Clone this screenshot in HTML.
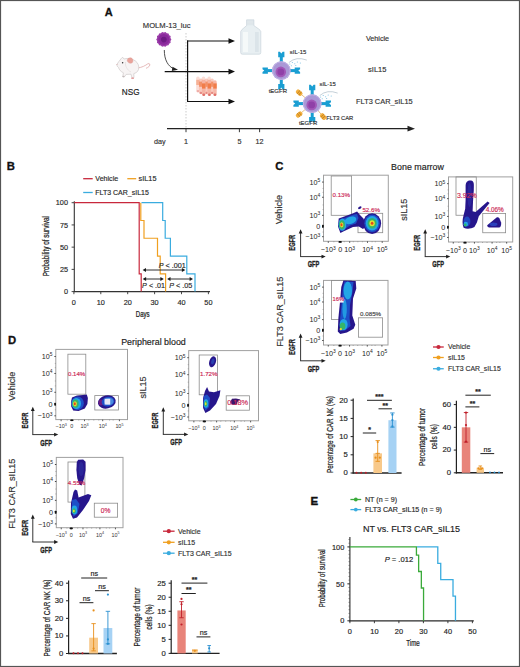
<!DOCTYPE html><html><head><meta charset="utf-8"><style>html,body{margin:0;padding:0;background:#fff;overflow:hidden;width:520px;height:667px;}svg{display:block;}text{font-family:"Liberation Sans",sans-serif;}</style></head><body>
<svg width="520" height="667" viewBox="0 0 520 667">
<defs>
<filter id="blur1" x="-30%" y="-30%" width="160%" height="160%"><feGaussianBlur stdDeviation="0.6"/></filter>
<filter id="blur2" x="-30%" y="-30%" width="160%" height="160%"><feGaussianBlur stdDeviation="1.2"/></filter>
<marker id="ah" viewBox="0 0 10 10" refX="9" refY="5" markerWidth="6" markerHeight="6" orient="auto-start-reverse"><path d="M0,1 L10,5 L0,9 z" fill="#111"/></marker>
<radialGradient id="cellg" cx="50%" cy="50%" r="50%"><stop offset="0" stop-color="#6a1a7a"/><stop offset="0.5" stop-color="#8a2a9a"/><stop offset="1" stop-color="#a040b0"/></radialGradient>
</defs>
<rect x="0" y="0" width="520" height="667" fill="#fff"/>
<text x="104.8" y="15.8" font-size="11" text-anchor="start" fill="#111" font-weight="bold" stroke="#111" stroke-width="0.3" style="">A</text>
<text x="166.7" y="28.34" font-size="7.6" text-anchor="middle" fill="#333" font-weight="normal" stroke="#333" stroke-width="0.16">MOLM-13_luc</text>
<path d="M171.40,39.40 L170.43,40.91 L170.65,42.70 L169.12,43.64 L168.54,45.34 L166.75,45.53 L165.49,46.81 L163.80,46.20 L162.11,46.81 L160.85,45.53 L159.06,45.34 L158.48,43.64 L156.95,42.70 L157.17,40.91 L156.20,39.40 L157.17,37.89 L156.95,36.10 L158.48,35.16 L159.06,33.46 L160.85,33.27 L162.11,31.99 L163.80,32.60 L165.49,31.99 L166.75,33.27 L168.54,33.46 L169.12,35.16 L170.65,36.10 L170.43,37.89 z" fill="#9a3aa8" filter="url(#blur1)"/>
<circle cx="163.8" cy="39.4" r="5.5" fill="#8a2a9c" filter="url(#blur1)"/>
<circle cx="163.8" cy="39.6" r="2.8" fill="#6e1a84" filter="url(#blur1)"/>
<path d="M164.3,50 C164.3,60 168,66.5 174.5,69.2" stroke="#222" stroke-width="0.8" fill="none" />
<path d="M172.5,66.8 L178,69.8 L171.8,70.9 z" stroke="none" stroke-width="1" fill="#222" />
<line x1="186" y1="33" x2="186" y2="129" stroke="#aaa" stroke-width="0.6" stroke-dasharray="1.5,1.5"/>
<line x1="187.6" y1="40.5" x2="187.6" y2="102.1" stroke="#111" stroke-width="1.2" />
<line x1="187" y1="41" x2="231" y2="41" stroke="#111" stroke-width="1.2" />
<path d="M228.5,38.2 L235,41 L228.5,43.8 z" stroke="none" stroke-width="1" fill="#111" />
<line x1="164.7" y1="71.6" x2="231" y2="71.6" stroke="#111" stroke-width="1.2" />
<path d="M228.5,68.8 L235,71.6 L228.5,74.4 z" stroke="none" stroke-width="1" fill="#111" />
<line x1="187" y1="101.5" x2="231" y2="101.5" stroke="#111" stroke-width="1.2" />
<path d="M228.5,98.7 L235,101.5 L228.5,104.3 z" stroke="none" stroke-width="1" fill="#111" />
<g filter="url(#blur1)">
<path d="M137.5,68 C142,67.5 145.5,65.5 147.8,63.8 C149.6,62.8 150.6,64.6 149.2,66.3 C148.3,67.4 146.8,68 146,68.3" stroke="#e0aaaa" stroke-width="0.8" fill="none" />
<path d="M116.8,64.6 C118,62.6 119.6,60.4 121.2,58.6 L122.6,57.2 L124,59 C126.5,58.2 130,58.4 133,59.6 C136.5,61 138.6,63.8 138.8,67.2 C139,70.5 137,72.8 133.8,73.6 L134,77.6 L132.2,78.8 L131,74.2 L126.2,74.4 L124.4,76.8 L122.8,76.4 L123.4,72.8 C120.8,71.6 119,69.6 118.6,67.6 C117.6,66.8 116.8,65.8 116.8,64.6 z" stroke="#bdb6b6" stroke-width="0.5" fill="#f7f4f4" />
<path d="M125.5,62 C125,66 127,70 131,72" stroke="#d8d2d2" stroke-width="0.5" fill="none" />
<path d="M127.2,60.6 C127.2,58.4 129,57.4 131,57.8 C133,58.4 133.4,61 132.4,62.6 C131.2,64 128,63.6 127.2,60.6 z" stroke="#d48c86" stroke-width="0.3" fill="#e9a39a" />
<ellipse cx="132.6" cy="78.2" rx="1.4" ry="0.9" fill="#e4a0a0"/>
<ellipse cx="123.4" cy="76.6" rx="1.2" ry="0.8" fill="#c4bcbc"/>
</g>
<circle cx="122.6" cy="62.8" r="0.75" fill="#333"/>
<circle cx="117" cy="64.6" r="0.5" fill="#d8a0a0"/>
<text x="130.7" y="94.65" font-size="8.2" text-anchor="middle" fill="#222" font-weight="normal" stroke="#222" stroke-width="0.16">NSG</text>
<g filter="url(#blur1)">
<rect x="196.20" y="76.60" width="3.5" height="15.8" rx="1.7" fill="#f6b4a4" opacity="0.45"/>
<rect x="196.20" y="79.80" width="3.5" height="5.2" fill="#f07a46" opacity="0.45"/>
<rect x="196.70" y="90.00" width="2.5" height="2.3" rx="1" fill="#d85a58" opacity="0.36"/>
<rect x="201.80" y="76.60" width="3.5" height="15.8" rx="1.7" fill="#f6b4a4" opacity="0.45"/>
<rect x="201.80" y="79.80" width="3.5" height="5.2" fill="#f07a46" opacity="0.45"/>
<rect x="202.30" y="90.00" width="2.5" height="2.3" rx="1" fill="#d85a58" opacity="0.36"/>
<rect x="207.40" y="76.60" width="3.5" height="15.8" rx="1.7" fill="#f6b4a4" opacity="0.45"/>
<rect x="207.40" y="79.80" width="3.5" height="5.2" fill="#f07a46" opacity="0.45"/>
<rect x="207.90" y="90.00" width="2.5" height="2.3" rx="1" fill="#d85a58" opacity="0.36"/>
<rect x="199.10" y="78.40" width="3.5" height="15.8" rx="1.7" fill="#f6b4a4" opacity="0.7"/>
<rect x="199.10" y="81.60" width="3.5" height="5.2" fill="#f07a46" opacity="0.7"/>
<rect x="199.60" y="91.80" width="2.5" height="2.3" rx="1" fill="#d85a58" opacity="0.56"/>
<rect x="204.70" y="78.40" width="3.5" height="15.8" rx="1.7" fill="#f6b4a4" opacity="0.7"/>
<rect x="204.70" y="81.60" width="3.5" height="5.2" fill="#f07a46" opacity="0.7"/>
<rect x="205.20" y="91.80" width="2.5" height="2.3" rx="1" fill="#d85a58" opacity="0.56"/>
<rect x="210.30" y="78.40" width="3.5" height="15.8" rx="1.7" fill="#f6b4a4" opacity="0.7"/>
<rect x="210.30" y="81.60" width="3.5" height="5.2" fill="#f07a46" opacity="0.7"/>
<rect x="210.80" y="91.80" width="2.5" height="2.3" rx="1" fill="#d85a58" opacity="0.56"/>
<rect x="202.00" y="80.20" width="3.5" height="15.8" rx="1.7" fill="#f6b4a4" opacity="0.95"/>
<rect x="202.00" y="83.40" width="3.5" height="5.2" fill="#f07a46" opacity="0.95"/>
<rect x="202.50" y="93.60" width="2.5" height="2.3" rx="1" fill="#d85a58" opacity="0.76"/>
<rect x="207.60" y="80.20" width="3.5" height="15.8" rx="1.7" fill="#f6b4a4" opacity="0.95"/>
<rect x="207.60" y="83.40" width="3.5" height="5.2" fill="#f07a46" opacity="0.95"/>
<rect x="208.10" y="93.60" width="2.5" height="2.3" rx="1" fill="#d85a58" opacity="0.76"/>
<rect x="213.20" y="80.20" width="3.5" height="15.8" rx="1.7" fill="#f6b4a4" opacity="0.95"/>
<rect x="213.20" y="83.40" width="3.5" height="5.2" fill="#f07a46" opacity="0.95"/>
<rect x="213.70" y="93.60" width="2.5" height="2.3" rx="1" fill="#d85a58" opacity="0.76"/>
</g>
<path d="M246.6,19.8 L253.9,19.8 L253.9,25.6 L259.6,29.6 L260.8,31.6 L260.8,52.6 Q260.8,54.2 259.2,54.2 L242.3,54.2 Q240.7,54.2 240.7,52.6 L240.7,31.6 L241.9,29.6 L246.6,25.6 z" stroke="#c2ced6" stroke-width="0.6" fill="#e8eff2" />
<line x1="246.6" y1="20.8" x2="253.9" y2="20.8" stroke="#cfd9df" stroke-width="0.4" />
<line x1="246.6" y1="22.1" x2="253.9" y2="22.1" stroke="#cfd9df" stroke-width="0.4" />
<line x1="246.6" y1="23.400000000000002" x2="253.9" y2="23.400000000000002" stroke="#cfd9df" stroke-width="0.4" />
<line x1="246.6" y1="24.700000000000003" x2="253.9" y2="24.700000000000003" stroke="#cfd9df" stroke-width="0.4" />
<path d="M243,32 L243,52 L248,52 L248,32 z" stroke="none" stroke-width="1" fill="#f6f9fa" opacity="0.9"/>
<path d="M255,32 L258.8,32 L258.8,52 L255,52 z" stroke="none" stroke-width="1" fill="#d6e0e6" opacity="0.7"/>
<g transform="translate(281.3,70.6) rotate(0)" fill="#1a9ed2"><rect x="-1.5" y="-14" width="3" height="5.4"/><path d="M-3.1,-13.4 L-3.1,-18.8 L-1.4,-18.8 L0,-17 L1.4,-18.8 L3.1,-18.8 L3.1,-13.4 z"/></g>
<g transform="translate(281.3,70.6) rotate(90)" fill="#1a9ed2"><rect x="-1.5" y="-14" width="3" height="5.4"/><path d="M-3.1,-13.4 L-3.1,-18.8 L-1.4,-18.8 L0,-17 L1.4,-18.8 L3.1,-18.8 L3.1,-13.4 z"/></g>
<g transform="translate(281.3,70.6) rotate(180)" fill="#1a9ed2"><rect x="-1.5" y="-14" width="3" height="5.4"/><path d="M-3.1,-13.4 L-3.1,-18.8 L-1.4,-18.8 L0,-17 L1.4,-18.8 L3.1,-18.8 L3.1,-13.4 z"/></g>
<g transform="translate(281.3,70.6) rotate(270)" fill="#1a9ed2"><rect x="-1.5" y="-14" width="3" height="5.4"/><path d="M-3.1,-13.4 L-3.1,-18.8 L-1.4,-18.8 L0,-17 L1.4,-18.8 L3.1,-18.8 L3.1,-13.4 z"/></g>
<circle cx="281.3" cy="70.6" r="9.4" fill="#aa98d6"/>
<circle cx="281.3" cy="70.6" r="8.8" fill="none" stroke="#c4b6e6" stroke-width="0.9"/>
<circle cx="280.8" cy="71.89999999999999" r="5.3" fill="#a258b8" filter="url(#blur1)"/>
<circle cx="280.8" cy="71.89999999999999" r="3.4" fill="#9040a8" filter="url(#blur1)"/>
<path d="M288.8,62.599999999999994 Q296.3,56.099999999999994 306.8,60.099999999999994" stroke="#8aa0b0" stroke-width="0.5" fill="none"/>
<circle cx="289.8" cy="64.1" r="0.5" fill="#6ab8e0"/>
<circle cx="292.3" cy="62.599999999999994" r="0.5" fill="#6ab8e0"/>
<circle cx="294.8" cy="63.8" r="0.5" fill="#6ab8e0"/>
<circle cx="297.3" cy="61.99999999999999" r="0.5" fill="#6ab8e0"/>
<circle cx="300.3" cy="63.099999999999994" r="0.5" fill="#6ab8e0"/>
<circle cx="291.3" cy="65.8" r="0.5" fill="#6ab8e0"/>
<circle cx="295.8" cy="65.6" r="0.5" fill="#6ab8e0"/>
<text x="298" y="53.92" font-size="5.9" text-anchor="middle" fill="#333" font-weight="normal" stroke="#333" stroke-width="0.16">sIL-15</text>
<text x="277.8" y="92.96" font-size="6.0" text-anchor="middle" fill="#333" font-weight="normal" stroke="#333" stroke-width="0.16">tEGFR</text>
<g transform="translate(312.2,103.6) rotate(-50)"><line x1="0" y1="-9" x2="0" y2="-14" stroke="#d89a40" stroke-width="0.6"/><rect x="-2.2" y="-20.5" width="4.4" height="7" rx="1.7" fill="#f2b040"/><rect x="-2.2" y="-18.2" width="4.4" height="0.8" fill="#c8821a"/><rect x="-2.2" y="-16.2" width="4.4" height="0.8" fill="#c8821a"/></g>
<g transform="translate(312.2,103.6) rotate(230)"><line x1="0" y1="-9" x2="0" y2="-14" stroke="#d89a40" stroke-width="0.6"/><rect x="-2.2" y="-20.5" width="4.4" height="7" rx="1.7" fill="#f2b040"/><rect x="-2.2" y="-18.2" width="4.4" height="0.8" fill="#c8821a"/><rect x="-2.2" y="-16.2" width="4.4" height="0.8" fill="#c8821a"/></g>
<g transform="translate(312.2,103.6) rotate(140)"><line x1="0" y1="-9" x2="0" y2="-14" stroke="#d89a40" stroke-width="0.6"/><rect x="-2.2" y="-20.5" width="4.4" height="7" rx="1.7" fill="#f2b040"/><rect x="-2.2" y="-18.2" width="4.4" height="0.8" fill="#c8821a"/><rect x="-2.2" y="-16.2" width="4.4" height="0.8" fill="#c8821a"/></g>
<g transform="translate(312.2,103.6) rotate(0)" fill="#1a9ed2"><rect x="-1.5" y="-14" width="3" height="5.4"/><path d="M-3.1,-13.4 L-3.1,-18.8 L-1.4,-18.8 L0,-17 L1.4,-18.8 L3.1,-18.8 L3.1,-13.4 z"/></g>
<g transform="translate(312.2,103.6) rotate(90)" fill="#1a9ed2"><rect x="-1.5" y="-14" width="3" height="5.4"/><path d="M-3.1,-13.4 L-3.1,-18.8 L-1.4,-18.8 L0,-17 L1.4,-18.8 L3.1,-18.8 L3.1,-13.4 z"/></g>
<g transform="translate(312.2,103.6) rotate(180)" fill="#1a9ed2"><rect x="-1.5" y="-14" width="3" height="5.4"/><path d="M-3.1,-13.4 L-3.1,-18.8 L-1.4,-18.8 L0,-17 L1.4,-18.8 L3.1,-18.8 L3.1,-13.4 z"/></g>
<g transform="translate(312.2,103.6) rotate(270)" fill="#1a9ed2"><rect x="-1.5" y="-14" width="3" height="5.4"/><path d="M-3.1,-13.4 L-3.1,-18.8 L-1.4,-18.8 L0,-17 L1.4,-18.8 L3.1,-18.8 L3.1,-13.4 z"/></g>
<circle cx="312.2" cy="103.6" r="9.4" fill="#aa98d6"/>
<circle cx="312.2" cy="103.6" r="8.8" fill="none" stroke="#c4b6e6" stroke-width="0.9"/>
<circle cx="311.7" cy="104.89999999999999" r="5.3" fill="#a258b8" filter="url(#blur1)"/>
<circle cx="311.7" cy="104.89999999999999" r="3.4" fill="#9040a8" filter="url(#blur1)"/>
<path d="M319.7,95.6 Q327.2,89.1 337.7,93.1" stroke="#8aa0b0" stroke-width="0.5" fill="none"/>
<circle cx="320.7" cy="97.1" r="0.5" fill="#6ab8e0"/>
<circle cx="323.2" cy="95.6" r="0.5" fill="#6ab8e0"/>
<circle cx="325.7" cy="96.8" r="0.5" fill="#6ab8e0"/>
<circle cx="328.2" cy="95.0" r="0.5" fill="#6ab8e0"/>
<circle cx="331.2" cy="96.1" r="0.5" fill="#6ab8e0"/>
<circle cx="322.2" cy="98.8" r="0.5" fill="#6ab8e0"/>
<circle cx="326.7" cy="98.6" r="0.5" fill="#6ab8e0"/>
<text x="327.7" y="86.12" font-size="5.9" text-anchor="middle" fill="#333" font-weight="normal" stroke="#333" stroke-width="0.16">sIL-15</text>
<text x="308.1" y="124.96" font-size="6.0" text-anchor="middle" fill="#333" font-weight="normal" stroke="#333" stroke-width="0.16">tEGFR</text>
<text x="326.3" y="120.49" font-size="5.8" text-anchor="start" fill="#333" font-weight="normal" stroke="#333" stroke-width="0.16">FLT3 CAR</text>
<text x="377.5" y="41.49" font-size="7.2" text-anchor="middle" fill="#333" font-weight="normal" stroke="#333" stroke-width="0.16">Vehicle</text>
<text x="377.3" y="71.70" font-size="7.5" text-anchor="middle" fill="#333" font-weight="normal" stroke="#333" stroke-width="0.16">sIL15</text>
<text x="384.4" y="103.86" font-size="7.4" text-anchor="middle" fill="#333" font-weight="normal" stroke="#333" stroke-width="0.16">FLT3 CAR_sIL15</text>
<line x1="167" y1="128.7" x2="410" y2="128.7" stroke="#222" stroke-width="1.2" />
<path d="M407.5,125.8 L415,128.7 L407.5,131.6 z" stroke="none" stroke-width="1" fill="#222" />
<line x1="186" y1="128.7" x2="186" y2="132.2" stroke="#222" stroke-width="0.9" />
<line x1="239.4" y1="128.7" x2="239.4" y2="132.2" stroke="#222" stroke-width="0.9" />
<line x1="259.6" y1="128.7" x2="259.6" y2="132.2" stroke="#222" stroke-width="0.9" />
<text x="165.6" y="143.99" font-size="7.2" text-anchor="end" fill="#333" font-weight="normal" stroke="#333" stroke-width="0.16">day</text>
<text x="186" y="143.79" font-size="7.2" text-anchor="middle" fill="#333" font-weight="normal" stroke="#333" stroke-width="0.16">1</text>
<text x="239.4" y="143.79" font-size="7.2" text-anchor="middle" fill="#333" font-weight="normal" stroke="#333" stroke-width="0.16">5</text>
<text x="259.6" y="143.79" font-size="7.2" text-anchor="middle" fill="#333" font-weight="normal" stroke="#333" stroke-width="0.16">12</text>
<text x="6.8" y="170.2" font-size="11.3" text-anchor="start" fill="#111" font-weight="bold" stroke="#111" stroke-width="0.3" style="">B</text>
<line x1="83.2" y1="178.7" x2="92.7" y2="178.7" stroke="#c8283c" stroke-width="1.3" />
<text x="95.3" y="181.26" font-size="7.1" text-anchor="start" fill="#2a2a2a" font-weight="normal" stroke="#2a2a2a" stroke-width="0.16">Vehicle</text>
<line x1="127.3" y1="178.7" x2="136.2" y2="178.7" stroke="#f0a020" stroke-width="1.3" />
<text x="138.6" y="181.33" font-size="7.3" text-anchor="start" fill="#2a2a2a" font-weight="normal" stroke="#2a2a2a" stroke-width="0.16">sIL15</text>
<line x1="83.2" y1="192.5" x2="92.7" y2="192.5" stroke="#3aacdf" stroke-width="1.3" />
<text x="95.3" y="195.02" font-size="7.0" text-anchor="start" fill="#2a2a2a" font-weight="normal" stroke="#2a2a2a" stroke-width="0.16">FLT3 CAR_sIL15</text>
<line x1="74.3" y1="201.2" x2="74.3" y2="292.1" stroke="#333" stroke-width="1.1" />
<line x1="73.8" y1="291.6" x2="210" y2="291.6" stroke="#333" stroke-width="1.1" />
<line x1="71.6" y1="291.6" x2="74.3" y2="291.6" stroke="#333" stroke-width="0.9" />
<text x="68.0" y="294.23" font-size="7.3" text-anchor="end" fill="#2a2a2a" font-weight="normal" stroke="#2a2a2a" stroke-width="0.16">0</text>
<line x1="71.6" y1="269.375" x2="74.3" y2="269.375" stroke="#333" stroke-width="0.9" />
<text x="68.0" y="272.00" font-size="7.3" text-anchor="end" fill="#2a2a2a" font-weight="normal" stroke="#2a2a2a" stroke-width="0.16">25</text>
<line x1="71.6" y1="247.15" x2="74.3" y2="247.15" stroke="#333" stroke-width="0.9" />
<text x="68.0" y="249.78" font-size="7.3" text-anchor="end" fill="#2a2a2a" font-weight="normal" stroke="#2a2a2a" stroke-width="0.16">50</text>
<line x1="71.6" y1="224.925" x2="74.3" y2="224.925" stroke="#333" stroke-width="0.9" />
<text x="68.0" y="227.55" font-size="7.3" text-anchor="end" fill="#2a2a2a" font-weight="normal" stroke="#2a2a2a" stroke-width="0.16">75</text>
<line x1="71.6" y1="202.7" x2="74.3" y2="202.7" stroke="#333" stroke-width="0.9" />
<text x="68.0" y="205.33" font-size="7.3" text-anchor="end" fill="#2a2a2a" font-weight="normal" stroke="#2a2a2a" stroke-width="0.16">100</text>
<line x1="73.89999999999999" y1="291.6" x2="73.89999999999999" y2="294.20000000000005" stroke="#333" stroke-width="0.9" />
<text x="73.89999999999999" y="304.63" font-size="7.3" text-anchor="middle" fill="#2a2a2a" font-weight="normal" stroke="#2a2a2a" stroke-width="0.16">0</text>
<line x1="100.79999999999998" y1="291.6" x2="100.79999999999998" y2="294.20000000000005" stroke="#333" stroke-width="0.9" />
<text x="100.79999999999998" y="304.63" font-size="7.3" text-anchor="middle" fill="#2a2a2a" font-weight="normal" stroke="#2a2a2a" stroke-width="0.16">10</text>
<line x1="127.69999999999999" y1="291.6" x2="127.69999999999999" y2="294.20000000000005" stroke="#333" stroke-width="0.9" />
<text x="127.69999999999999" y="304.63" font-size="7.3" text-anchor="middle" fill="#2a2a2a" font-weight="normal" stroke="#2a2a2a" stroke-width="0.16">20</text>
<line x1="154.6" y1="291.6" x2="154.6" y2="294.20000000000005" stroke="#333" stroke-width="0.9" />
<text x="154.6" y="304.63" font-size="7.3" text-anchor="middle" fill="#2a2a2a" font-weight="normal" stroke="#2a2a2a" stroke-width="0.16">30</text>
<line x1="181.49999999999997" y1="291.6" x2="181.49999999999997" y2="294.20000000000005" stroke="#333" stroke-width="0.9" />
<text x="181.49999999999997" y="304.63" font-size="7.3" text-anchor="middle" fill="#2a2a2a" font-weight="normal" stroke="#2a2a2a" stroke-width="0.16">40</text>
<line x1="208.4" y1="291.6" x2="208.4" y2="294.20000000000005" stroke="#333" stroke-width="0.9" />
<text x="208.4" y="304.63" font-size="7.3" text-anchor="middle" fill="#2a2a2a" font-weight="normal" stroke="#2a2a2a" stroke-width="0.16">50</text>
<g transform="translate(45.8,246.2) rotate(-90) scale(0.78,1)"><text x="0" y="2.94" font-size="8.2" text-anchor="middle" fill="#222" stroke="#222" stroke-width="0.24">Probability of survival</text></g>
<g transform="translate(142.7,314.2) scale(0.74,1)"><text x="0" y="2.94" font-size="8.2" text-anchor="middle" fill="#222" stroke="#222" stroke-width="0.24">Days</text></g>
<path d="M74.3,202.7 L139.2,202.7 L139.2,273.82 L141.2,273.82 L141.2,291.6" stroke="#c8283c" stroke-width="1.2" fill="none" />
<path d="M140.8,202.7 L140.8,220.48 L144,220.48 L144,238.26 L157.5,238.26 L157.5,256.04 L160.2,256.04 L160.2,273.82 L165.6,273.82 L165.6,291.6" stroke="#f0a020" stroke-width="1.2" fill="none" />
<path d="M141.5,202.7 L162.7,202.7 L162.7,220.48 L165.2,220.48 L165.2,238.26 L170.4,238.26 L170.4,256.04 L186.8,256.04 L186.8,273.82 L195,273.82 L195,291.6" stroke="#3aacdf" stroke-width="1.2" fill="none" />
<line x1="144.6" y1="270" x2="183.3" y2="270" stroke="#1a1a1a" stroke-width="0.9" />
<path d="M142.6,270 L146.0,268.1 L146.0,271.9 z" stroke="none" stroke-width="1" fill="#1a1a1a" />
<path d="M185.3,270 L181.9,268.1 L181.9,271.9 z" stroke="none" stroke-width="1" fill="#1a1a1a" />
<line x1="144.7" y1="279" x2="161.8" y2="279" stroke="#1a1a1a" stroke-width="0.9" />
<path d="M142.7,279 L146.1,277.1 L146.1,280.9 z" stroke="none" stroke-width="1" fill="#1a1a1a" />
<path d="M163.8,279 L160.4,277.1 L160.4,280.9 z" stroke="none" stroke-width="1" fill="#1a1a1a" />
<line x1="169.1" y1="279" x2="191" y2="279" stroke="#1a1a1a" stroke-width="0.9" />
<path d="M167.1,279 L170.5,277.1 L170.5,280.9 z" stroke="none" stroke-width="1" fill="#1a1a1a" />
<path d="M193,279 L189.6,277.1 L189.6,280.9 z" stroke="none" stroke-width="1" fill="#1a1a1a" />
<text x="172.3" y="267.79" font-size="7.2" text-anchor="middle" fill="#2a2a2a" font-weight="normal" stroke="#2a2a2a" stroke-width="0.16"><tspan font-style="italic">P</tspan> &lt; .001</text>
<text x="153.6" y="288.19" font-size="7.2" text-anchor="middle" fill="#2a2a2a" font-weight="normal" stroke="#2a2a2a" stroke-width="0.16"><tspan font-style="italic">P</tspan> &lt; .01</text>
<text x="180.8" y="288.19" font-size="7.2" text-anchor="middle" fill="#2a2a2a" font-weight="normal" stroke="#2a2a2a" stroke-width="0.16"><tspan font-style="italic">P</tspan> &lt; .05</text>
<text x="275.2" y="170.1" font-size="11.3" text-anchor="start" fill="#111" font-weight="bold" stroke="#111" stroke-width="0.3" style="">C</text>
<text x="417.5" y="169.70" font-size="8.9" text-anchor="middle" fill="#222" font-weight="normal" stroke="#222" stroke-width="0.16">Bone marrow</text>
<rect x="323.5" y="175.2" width="64.80" height="66.10" fill="none" stroke="#a0a0a0" stroke-width="1.0"/>
<line x1="322.1" y1="182.0744" x2="323.5" y2="182.0744" stroke="#333" stroke-width="0.9" />
<text x="320.20" y="184.67" font-size="7.2" text-anchor="end" fill="#1e1e1e">10<tspan font-size="4.90" dy="-2.74">5</tspan></text>
<line x1="322.1" y1="197.2774" x2="323.5" y2="197.2774" stroke="#333" stroke-width="0.9" />
<text x="320.20" y="199.87" font-size="7.2" text-anchor="end" fill="#1e1e1e">10<tspan font-size="4.90" dy="-2.74">4</tspan></text>
<line x1="322.1" y1="215.3227" x2="323.5" y2="215.3227" stroke="#333" stroke-width="0.9" />
<text x="320.20" y="217.91" font-size="7.2" text-anchor="end" fill="#1e1e1e">10<tspan font-size="4.90" dy="-2.74">3</tspan></text>
<line x1="322.1" y1="226.2292" x2="323.5" y2="226.2292" stroke="#333" stroke-width="0.9" />
<text x="320.20" y="228.82" font-size="7.2" text-anchor="end" fill="#1e1e1e">0</text>
<line x1="322.1" y1="236.673" x2="323.5" y2="236.673" stroke="#333" stroke-width="0.9" />
<text x="320.20" y="239.27" font-size="7.2" text-anchor="end" fill="#1e1e1e">−10<tspan font-size="4.90" dy="-2.74">3</tspan></text>
<line x1="322.5" y1="188.42" x2="323.5" y2="188.42" stroke="#777" stroke-width="0.5" />
<line x1="322.5" y1="192.386" x2="323.5" y2="192.386" stroke="#777" stroke-width="0.5" />
<line x1="322.5" y1="204.945" x2="323.5" y2="204.945" stroke="#777" stroke-width="0.5" />
<line x1="322.5" y1="209.572" x2="323.5" y2="209.572" stroke="#777" stroke-width="0.5" />
<line x1="322.5" y1="232.046" x2="323.5" y2="232.046" stroke="#777" stroke-width="0.5" />
<rect x="322.00" y="224.73" width="1.7" height="3.0" rx="0.6" fill="#111"/>
<line x1="328.2952" y1="241.3" x2="328.2952" y2="242.9" stroke="#333" stroke-width="0.8" />
<text x="328.30" y="252.39" font-size="7.2" text-anchor="middle" fill="#222">−10<tspan font-size="4.90" dy="-2.74">3</tspan></text>
<line x1="340.1536" y1="241.3" x2="340.1536" y2="242.9" stroke="#333" stroke-width="0.8" />
<text x="340.15" y="252.39" font-size="7.2" text-anchor="middle" fill="#222">0</text>
<line x1="349.6792" y1="241.3" x2="349.6792" y2="242.9" stroke="#333" stroke-width="0.8" />
<text x="349.68" y="252.39" font-size="7.2" text-anchor="middle" fill="#222">10<tspan font-size="4.90" dy="-2.74">3</tspan></text>
<line x1="367.49920000000003" y1="241.3" x2="367.49920000000003" y2="242.9" stroke="#333" stroke-width="0.8" />
<text x="367.50" y="252.39" font-size="7.2" text-anchor="middle" fill="#222">10<tspan font-size="4.90" dy="-2.74">4</tspan></text>
<line x1="382.2088" y1="241.3" x2="382.2088" y2="242.9" stroke="#333" stroke-width="0.8" />
<text x="382.21" y="252.39" font-size="7.2" text-anchor="middle" fill="#222">10<tspan font-size="4.90" dy="-2.74">5</tspan></text>
<line x1="333.868" y1="241.3" x2="333.868" y2="242.3" stroke="#777" stroke-width="0.5" />
<line x1="344.236" y1="241.3" x2="344.236" y2="242.3" stroke="#777" stroke-width="0.5" />
<line x1="353.308" y1="241.3" x2="353.308" y2="242.3" stroke="#777" stroke-width="0.5" />
<line x1="357.844" y1="241.3" x2="357.844" y2="242.3" stroke="#777" stroke-width="0.5" />
<line x1="362.38" y1="241.3" x2="362.38" y2="242.3" stroke="#777" stroke-width="0.5" />
<line x1="372.1" y1="241.3" x2="372.1" y2="242.3" stroke="#777" stroke-width="0.5" />
<line x1="375.34000000000003" y1="241.3" x2="375.34000000000003" y2="242.3" stroke="#777" stroke-width="0.5" />
<rect x="338.55" y="241.10" width="3.2" height="1.7" rx="0.6" fill="#111"/>
<rect x="331.2" y="176" width="20.40" height="39.30" fill="none" stroke="#8c8c8c" stroke-width="0.8"/>
<rect x="358" y="213.3" width="24.70" height="19.40" fill="none" stroke="#8c8c8c" stroke-width="0.8"/>
<g filter="url(#blur1)">
<path d="M338.70,218.50 L345.00,216.20 L353.10,213.30 L357.10,211.50 L360.00,215.00 L363.50,218.50 L366.00,226.00 L363.00,229.00 L358.80,226.50 L353.00,227.10 L343.80,231.20 L340.40,232.90 L338.00,226.50 z" stroke="none" stroke-width="1" fill="#28168c" />
<ellipse cx="372.1" cy="223.6" rx="9" ry="10.3" fill="#28168c"/>
<path d="M340.00,219.50 L346.00,217.50 L354.00,214.50 L357.00,214.00 L358.50,218.00 L356.00,223.50 L350.00,225.50 L344.00,229.50 L340.50,231.00 L339.30,226.00 z" stroke="none" stroke-width="1" fill="#1f50c8" />
<ellipse cx="350.5" cy="220.3" rx="6" ry="3.6" fill="#22a6e6" transform="rotate(-18 350.5 220.3)"/>
<ellipse cx="342.4" cy="224.6" rx="3.9" ry="6.2" fill="#22a6e6"/>
<ellipse cx="342" cy="224.8" rx="2.9" ry="4.6" fill="#34b46a"/>
<ellipse cx="341.7" cy="224.8" rx="1.7" ry="2.6" fill="#e2e032"/>
<ellipse cx="341.5" cy="224.8" rx="1.0" ry="1.5" fill="#e4461e"/>
<ellipse cx="372.1" cy="223.3" rx="7.7" ry="8.9" fill="#1f50c8"/>
<ellipse cx="372.1" cy="223.3" rx="6.3" ry="7.3" fill="#22a6e6"/>
<ellipse cx="372.1" cy="223.3" rx="4.5" ry="5.2" fill="#34b46a"/>
<ellipse cx="372.1" cy="223.3" rx="2.7" ry="3.0" fill="#e2e032"/>
<ellipse cx="372.1" cy="223.3" rx="1.3" ry="1.5" fill="#e4461e"/>
<ellipse cx="359.8" cy="207.8" rx="1.9" ry="1.1" fill="#28168c" transform="rotate(-30 359.8 207.8)"/>
</g>
<text x="341.3" y="197.33" font-size="6.2" text-anchor="middle" fill="#cc2a58" font-weight="normal" stroke="#cc2a58" stroke-width="0.16">0.13%</text>
<text x="371.2" y="211.73" font-size="6.2" text-anchor="middle" fill="#cc2a58" font-weight="normal" stroke="#cc2a58" stroke-width="0.16">52.6%</text>
<g transform="translate(278.8,209.6) rotate(-90) scale(1.0,1)"><text x="0" y="3.28" font-size="9.1" text-anchor="middle" fill="#333" font-weight="normal" stroke="#333" stroke-width="0.16">Vehicle</text></g>
<line x1="300.6" y1="232.3" x2="300.6" y2="256.6" stroke="#1e1e1e" stroke-width="0.9" />
<path d="M298.70000000000005,233.5 L300.6,229.3 L302.5,233.5 z" stroke="none" stroke-width="1" fill="#1e1e1e" />
<line x1="300.15000000000003" y1="256.6" x2="322.7" y2="256.6" stroke="#1e1e1e" stroke-width="0.9" />
<path d="M321.5,254.70000000000002 L325.7,256.6 L321.5,258.5 z" stroke="none" stroke-width="1" fill="#1e1e1e" />
<g transform="translate(292.3,242.75) rotate(-90) scale(0.68,1)"><text x="0" y="3.01" font-size="8.4" text-anchor="middle" fill="#222" font-weight="bold" stroke="#222" stroke-width="0.3">EGFR</text></g>
<g transform="translate(313.5,264.3) scale(0.68,1)"><text x="0" y="3.01" font-size="8.4" text-anchor="middle" fill="#222" font-weight="bold" stroke="#222" stroke-width="0.3">GFP</text></g>
<rect x="448.5" y="176.9" width="64.20" height="65.10" fill="none" stroke="#a0a0a0" stroke-width="1.0"/>
<line x1="447.1" y1="183.6704" x2="448.5" y2="183.6704" stroke="#333" stroke-width="0.9" />
<text x="445.20" y="186.26" font-size="7.2" text-anchor="end" fill="#1e1e1e">10<tspan font-size="4.90" dy="-2.74">5</tspan></text>
<line x1="447.1" y1="198.6434" x2="448.5" y2="198.6434" stroke="#333" stroke-width="0.9" />
<text x="445.20" y="201.24" font-size="7.2" text-anchor="end" fill="#1e1e1e">10<tspan font-size="4.90" dy="-2.74">4</tspan></text>
<line x1="447.1" y1="216.41570000000002" x2="448.5" y2="216.41570000000002" stroke="#333" stroke-width="0.9" />
<text x="445.20" y="219.01" font-size="7.2" text-anchor="end" fill="#1e1e1e">10<tspan font-size="4.90" dy="-2.74">3</tspan></text>
<line x1="447.1" y1="227.1572" x2="448.5" y2="227.1572" stroke="#333" stroke-width="0.9" />
<text x="445.20" y="229.75" font-size="7.2" text-anchor="end" fill="#1e1e1e">0</text>
<line x1="447.1" y1="237.443" x2="448.5" y2="237.443" stroke="#333" stroke-width="0.9" />
<text x="445.20" y="240.04" font-size="7.2" text-anchor="end" fill="#1e1e1e">−10<tspan font-size="4.90" dy="-2.74">3</tspan></text>
<line x1="447.5" y1="189.92000000000002" x2="448.5" y2="189.92000000000002" stroke="#777" stroke-width="0.5" />
<line x1="447.5" y1="193.826" x2="448.5" y2="193.826" stroke="#777" stroke-width="0.5" />
<line x1="447.5" y1="206.195" x2="448.5" y2="206.195" stroke="#777" stroke-width="0.5" />
<line x1="447.5" y1="210.752" x2="448.5" y2="210.752" stroke="#777" stroke-width="0.5" />
<line x1="447.5" y1="232.886" x2="448.5" y2="232.886" stroke="#777" stroke-width="0.5" />
<rect x="447.00" y="225.66" width="1.7" height="3.0" rx="0.6" fill="#111"/>
<line x1="453.2508" y1="242" x2="453.2508" y2="243.6" stroke="#333" stroke-width="0.8" />
<text x="453.25" y="253.09" font-size="7.2" text-anchor="middle" fill="#222">−10<tspan font-size="4.90" dy="-2.74">3</tspan></text>
<line x1="464.99940000000004" y1="242" x2="464.99940000000004" y2="243.6" stroke="#333" stroke-width="0.8" />
<text x="465.00" y="253.09" font-size="7.2" text-anchor="middle" fill="#222">0</text>
<line x1="474.4368" y1="242" x2="474.4368" y2="243.6" stroke="#333" stroke-width="0.8" />
<text x="474.44" y="253.09" font-size="7.2" text-anchor="middle" fill="#222">10<tspan font-size="4.90" dy="-2.74">3</tspan></text>
<line x1="492.09180000000003" y1="242" x2="492.09180000000003" y2="243.6" stroke="#333" stroke-width="0.8" />
<text x="492.09" y="253.09" font-size="7.2" text-anchor="middle" fill="#222">10<tspan font-size="4.90" dy="-2.74">4</tspan></text>
<line x1="506.6652" y1="242" x2="506.6652" y2="243.6" stroke="#333" stroke-width="0.8" />
<text x="506.67" y="253.09" font-size="7.2" text-anchor="middle" fill="#222">10<tspan font-size="4.90" dy="-2.74">5</tspan></text>
<line x1="458.772" y1="242" x2="458.772" y2="243.0" stroke="#777" stroke-width="0.5" />
<line x1="469.04400000000004" y1="242" x2="469.04400000000004" y2="243.0" stroke="#777" stroke-width="0.5" />
<line x1="478.03200000000004" y1="242" x2="478.03200000000004" y2="243.0" stroke="#777" stroke-width="0.5" />
<line x1="482.526" y1="242" x2="482.526" y2="243.0" stroke="#777" stroke-width="0.5" />
<line x1="487.02000000000004" y1="242" x2="487.02000000000004" y2="243.0" stroke="#777" stroke-width="0.5" />
<line x1="496.65000000000003" y1="242" x2="496.65000000000003" y2="243.0" stroke="#777" stroke-width="0.5" />
<line x1="499.86" y1="242" x2="499.86" y2="243.0" stroke="#777" stroke-width="0.5" />
<rect x="463.40" y="241.80" width="3.2" height="1.7" rx="0.6" fill="#111"/>
<rect x="456" y="176.9" width="20.25" height="38.35" fill="none" stroke="#8c8c8c" stroke-width="0.8"/>
<rect x="482.75" y="213.5" width="22.85" height="19.25" fill="none" stroke="#8c8c8c" stroke-width="0.8"/>
<g filter="url(#blur1)">
<path d="M465.6,186 C465.6,181 469,179.8 472,180.8 C474.2,181.8 474,185 473.8,190 L473.1,200 L472.6,211.3 L475.6,211.9 L487.6,201.4 L489.6,202.9 L478.8,216.3 L476.9,222.5 L474.4,226.9 C471,228.8 467,229.2 463.6,227.8 C462.2,224 462.3,220 463.4,216 L465.2,208.8 L465.6,200 z" stroke="none" stroke-width="1" fill="#28168c" />
<ellipse cx="469.6" cy="195" rx="2.2" ry="12" fill="#2c2aa0" opacity="0.8"/>
<ellipse cx="467" cy="221.5" rx="3.4" ry="5" fill="#1f50c8" opacity="0.85"/>
<ellipse cx="465.8" cy="224.2" rx="2.2" ry="2.4" fill="#22a6e6"/>
<ellipse cx="465.2" cy="225" rx="1.3" ry="1.4" fill="#34b46a"/>
<path d="M487.2,225.2 L496.9,217.3 Q498.5,216.8 499.5,218.6 L501.2,222.8 Q501.3,227.5 499,227.6 L490.8,227.6 Q487,227.5 487.2,225.2 z" stroke="none" stroke-width="1" fill="#28168c" />
<ellipse cx="493.5" cy="224.2" rx="4" ry="1.8" fill="#2a46c0" opacity="0.9"/>
</g>
<text x="466.9" y="198.22" font-size="7.0" text-anchor="middle" fill="#cc2a58" font-weight="normal" stroke="#cc2a58" stroke-width="0.16">3.92%</text>
<text x="494.7" y="211.70" font-size="6.4" text-anchor="middle" fill="#cc2a58" font-weight="normal" stroke="#cc2a58" stroke-width="0.16">4.06%</text>
<g transform="translate(403.3,209.7) rotate(-90) scale(1.0,1)"><text x="0" y="3.24" font-size="9.0" text-anchor="middle" fill="#333" font-weight="normal" stroke="#333" stroke-width="0.16">sIL15</text></g>
<line x1="425.2" y1="232.3" x2="425.2" y2="256.6" stroke="#1e1e1e" stroke-width="0.9" />
<path d="M423.3,233.5 L425.2,229.3 L427.09999999999997,233.5 z" stroke="none" stroke-width="1" fill="#1e1e1e" />
<line x1="424.75" y1="256.6" x2="447.3" y2="256.6" stroke="#1e1e1e" stroke-width="0.9" />
<path d="M446.1,254.70000000000002 L450.3,256.6 L446.1,258.5 z" stroke="none" stroke-width="1" fill="#1e1e1e" />
<g transform="translate(416.9,242.75) rotate(-90) scale(0.68,1)"><text x="0" y="3.01" font-size="8.4" text-anchor="middle" fill="#222" font-weight="bold" stroke="#222" stroke-width="0.3">EGFR</text></g>
<g transform="translate(438.1,264.3) scale(0.68,1)"><text x="0" y="3.01" font-size="8.4" text-anchor="middle" fill="#222" font-weight="bold" stroke="#222" stroke-width="0.3">GFP</text></g>
<rect x="323.5" y="280.4" width="64.50" height="64.60" fill="none" stroke="#a0a0a0" stroke-width="1.0"/>
<line x1="322.1" y1="287.11839999999995" x2="323.5" y2="287.11839999999995" stroke="#333" stroke-width="0.9" />
<text x="320.20" y="289.71" font-size="7.2" text-anchor="end" fill="#1e1e1e">10<tspan font-size="4.90" dy="-2.74">5</tspan></text>
<line x1="322.1" y1="301.9764" x2="323.5" y2="301.9764" stroke="#333" stroke-width="0.9" />
<text x="320.20" y="304.57" font-size="7.2" text-anchor="end" fill="#1e1e1e">10<tspan font-size="4.90" dy="-2.74">4</tspan></text>
<line x1="322.1" y1="319.6122" x2="323.5" y2="319.6122" stroke="#333" stroke-width="0.9" />
<text x="320.20" y="322.20" font-size="7.2" text-anchor="end" fill="#1e1e1e">10<tspan font-size="4.90" dy="-2.74">3</tspan></text>
<line x1="322.1" y1="330.2712" x2="323.5" y2="330.2712" stroke="#333" stroke-width="0.9" />
<text x="320.20" y="332.86" font-size="7.2" text-anchor="end" fill="#1e1e1e">0</text>
<line x1="322.1" y1="340.478" x2="323.5" y2="340.478" stroke="#333" stroke-width="0.9" />
<text x="320.20" y="343.07" font-size="7.2" text-anchor="end" fill="#1e1e1e">−10<tspan font-size="4.90" dy="-2.74">3</tspan></text>
<line x1="322.5" y1="293.32" x2="323.5" y2="293.32" stroke="#777" stroke-width="0.5" />
<line x1="322.5" y1="297.19599999999997" x2="323.5" y2="297.19599999999997" stroke="#777" stroke-width="0.5" />
<line x1="322.5" y1="309.46999999999997" x2="323.5" y2="309.46999999999997" stroke="#777" stroke-width="0.5" />
<line x1="322.5" y1="313.99199999999996" x2="323.5" y2="313.99199999999996" stroke="#777" stroke-width="0.5" />
<line x1="322.5" y1="335.956" x2="323.5" y2="335.956" stroke="#777" stroke-width="0.5" />
<rect x="322.00" y="328.77" width="1.7" height="3.0" rx="0.6" fill="#111"/>
<line x1="328.273" y1="345" x2="328.273" y2="346.6" stroke="#333" stroke-width="0.8" />
<text x="328.27" y="356.09" font-size="7.2" text-anchor="middle" fill="#222">−10<tspan font-size="4.90" dy="-2.74">3</tspan></text>
<line x1="340.0765" y1="345" x2="340.0765" y2="346.6" stroke="#333" stroke-width="0.8" />
<text x="340.08" y="356.09" font-size="7.2" text-anchor="middle" fill="#222">0</text>
<line x1="349.558" y1="345" x2="349.558" y2="346.6" stroke="#333" stroke-width="0.8" />
<text x="349.56" y="356.09" font-size="7.2" text-anchor="middle" fill="#222">10<tspan font-size="4.90" dy="-2.74">3</tspan></text>
<line x1="367.2955" y1="345" x2="367.2955" y2="346.6" stroke="#333" stroke-width="0.8" />
<text x="367.30" y="356.09" font-size="7.2" text-anchor="middle" fill="#222">10<tspan font-size="4.90" dy="-2.74">4</tspan></text>
<line x1="381.937" y1="345" x2="381.937" y2="346.6" stroke="#333" stroke-width="0.8" />
<text x="381.94" y="356.09" font-size="7.2" text-anchor="middle" fill="#222">10<tspan font-size="4.90" dy="-2.74">5</tspan></text>
<line x1="333.82" y1="345" x2="333.82" y2="346.0" stroke="#777" stroke-width="0.5" />
<line x1="344.14" y1="345" x2="344.14" y2="346.0" stroke="#777" stroke-width="0.5" />
<line x1="353.17" y1="345" x2="353.17" y2="346.0" stroke="#777" stroke-width="0.5" />
<line x1="357.685" y1="345" x2="357.685" y2="346.0" stroke="#777" stroke-width="0.5" />
<line x1="362.2" y1="345" x2="362.2" y2="346.0" stroke="#777" stroke-width="0.5" />
<line x1="371.875" y1="345" x2="371.875" y2="346.0" stroke="#777" stroke-width="0.5" />
<line x1="375.1" y1="345" x2="375.1" y2="346.0" stroke="#777" stroke-width="0.5" />
<rect x="338.48" y="344.80" width="3.2" height="1.7" rx="0.6" fill="#111"/>
<rect x="331.4" y="280.4" width="19.85" height="39.00" fill="none" stroke="#8c8c8c" stroke-width="0.8"/>
<rect x="358.4" y="317.8" width="24.20" height="19.40" fill="none" stroke="#8c8c8c" stroke-width="0.8"/>
<g filter="url(#blur1)">
<path d="M343.40,280.60 L355.70,281.00 L356.30,288.50 L353.00,298.60 L352.30,315.40 L355.30,324.80 L353.60,328.80 L346.90,332.40 L340.20,334.00 L337.80,331.50 L338.40,318.10 L340.00,301.90 L341.30,287.10 z" stroke="none" stroke-width="1" fill="#28168c" />
<path d="M344.50,281.50 L353.50,282.00 L352.50,292.00 L350.00,305.00 L349.50,318.00 L350.50,326.00 L345.00,330.50 L340.00,331.00 L340.20,318.00 L341.80,302.00 L342.80,289.00 z" stroke="none" stroke-width="1" fill="#1f50c8" />
<ellipse cx="347.8" cy="290.5" rx="4.2" ry="9" fill="#22a6e6"/>
<ellipse cx="344.6" cy="309" rx="2.2" ry="10" fill="#22a6e6" opacity="0.85"/>
<ellipse cx="343.6" cy="324.5" rx="4" ry="5.5" fill="#22a6e6"/>
<ellipse cx="342.6" cy="326" rx="2.8" ry="3.6" fill="#34b46a"/>
<ellipse cx="340.8" cy="329.2" rx="1.2" ry="1.1" fill="#e2e032"/>
</g>
<rect x="339.8" y="297.6" width="3.8" height="5" fill="#f4f4fa" filter="url(#blur1)"/>
<text x="338.4" y="301.49" font-size="5.8" text-anchor="middle" fill="#cc2a58" font-weight="normal" stroke="#cc2a58" stroke-width="0.16">16%</text>
<text x="370.6" y="315.63" font-size="6.2" text-anchor="middle" fill="#444" font-weight="normal" stroke="#444" stroke-width="0.16">0.085%</text>
<g transform="translate(279.3,311.7) rotate(-90) scale(1.0,1)"><text x="0" y="3.31" font-size="9.2" text-anchor="middle" fill="#333" font-weight="normal" stroke="#333" stroke-width="0.16">FLT3 CAR_sIL15</text></g>
<line x1="300.6" y1="336.5" x2="300.6" y2="360.8" stroke="#1e1e1e" stroke-width="0.9" />
<path d="M298.70000000000005,337.7 L300.6,333.5 L302.5,337.7 z" stroke="none" stroke-width="1" fill="#1e1e1e" />
<line x1="300.15000000000003" y1="360.8" x2="322.7" y2="360.8" stroke="#1e1e1e" stroke-width="0.9" />
<path d="M321.5,358.90000000000003 L325.7,360.8 L321.5,362.7 z" stroke="none" stroke-width="1" fill="#1e1e1e" />
<g transform="translate(292.3,347) rotate(-90) scale(0.68,1)"><text x="0" y="3.01" font-size="8.4" text-anchor="middle" fill="#222" font-weight="bold" stroke="#222" stroke-width="0.3">EGFR</text></g>
<g transform="translate(313.5,368.5) scale(0.68,1)"><text x="0" y="3.01" font-size="8.4" text-anchor="middle" fill="#222" font-weight="bold" stroke="#222" stroke-width="0.3">GFP</text></g>
<line x1="433" y1="347" x2="443.75" y2="347" stroke="#c8283c" stroke-width="1.3" />
<circle cx="438.5" cy="347" r="2.1" fill="#c8283c"/>
<text x="448" y="349.48" font-size="6.9" text-anchor="start" fill="#333" font-weight="normal" stroke="#333" stroke-width="0.16">Vehicle</text>
<line x1="433" y1="357.5" x2="443.75" y2="357.5" stroke="#f0a020" stroke-width="1.3" />
<circle cx="438.5" cy="357.5" r="2.1" fill="#f0a020"/>
<text x="448" y="359.98" font-size="6.9" text-anchor="start" fill="#333" font-weight="normal" stroke="#333" stroke-width="0.16">sIL15</text>
<line x1="433" y1="368.75" x2="443.75" y2="368.75" stroke="#3aacdf" stroke-width="1.3" />
<circle cx="438.5" cy="368.75" r="2.1" fill="#3aacdf"/>
<text x="448" y="371.23" font-size="6.9" text-anchor="start" fill="#333" font-weight="normal" stroke="#333" stroke-width="0.16">FLT3 CAR_sIL15</text>
<line x1="353.2" y1="398.5" x2="353.2" y2="473.6" stroke="#222" stroke-width="1.2" />
<line x1="352.59999999999997" y1="473" x2="401.6" y2="473" stroke="#222" stroke-width="1.4" />
<line x1="350.59999999999997" y1="473.0" x2="353.2" y2="473.0" stroke="#222" stroke-width="1.0" />
<text x="347.9" y="475.37" font-size="7.7" text-anchor="end" fill="#1e1e1e" font-weight="normal" stroke="#1e1e1e" stroke-width="0.16">0</text>
<line x1="350.59999999999997" y1="454.8" x2="353.2" y2="454.8" stroke="#222" stroke-width="1.0" />
<text x="347.9" y="457.17" font-size="7.7" text-anchor="end" fill="#1e1e1e" font-weight="normal" stroke="#1e1e1e" stroke-width="0.16">5</text>
<line x1="350.59999999999997" y1="436.6" x2="353.2" y2="436.6" stroke="#222" stroke-width="1.0" />
<text x="347.9" y="438.97" font-size="7.7" text-anchor="end" fill="#1e1e1e" font-weight="normal" stroke="#1e1e1e" stroke-width="0.16">10</text>
<line x1="350.59999999999997" y1="418.4" x2="353.2" y2="418.4" stroke="#222" stroke-width="1.0" />
<text x="347.9" y="420.77" font-size="7.7" text-anchor="end" fill="#1e1e1e" font-weight="normal" stroke="#1e1e1e" stroke-width="0.16">15</text>
<line x1="350.59999999999997" y1="400.2" x2="353.2" y2="400.2" stroke="#222" stroke-width="1.0" />
<text x="347.9" y="402.57" font-size="7.7" text-anchor="end" fill="#1e1e1e" font-weight="normal" stroke="#1e1e1e" stroke-width="0.16">20</text>
<circle cx="356.5" cy="472.7" r="1.0" fill="#c0202a"/>
<circle cx="361.2" cy="472.7" r="1.0" fill="#c0202a"/>
<circle cx="365.8" cy="472.7" r="1.0" fill="#c0202a"/>
<rect x="373.4" y="453.34" width="8.60" height="19.66" fill="#f8c98a"/>
<line x1="377.7" y1="440.604" x2="377.7" y2="453.344" stroke="#e8901c" stroke-width="0.9" />
<line x1="375.5" y1="440.604" x2="379.9" y2="440.604" stroke="#e8901c" stroke-width="0.9" />
<line x1="375.5" y1="453.344" x2="379.9" y2="453.344" stroke="#e8901c" stroke-width="0.9" />
<line x1="377.7" y1="453.344" x2="377.7" y2="461.352" stroke="#e8901c" stroke-width="0.9" />
<line x1="375.5" y1="461.352" x2="379.9" y2="461.352" stroke="#e8901c" stroke-width="0.9" />
<circle cx="377.7" cy="442.06" r="1.1" fill="#e8901c"/>
<circle cx="375.6" cy="457.712" r="1.1" fill="#e8901c"/>
<circle cx="379.8" cy="457.712" r="1.1" fill="#e8901c"/>
<rect x="388.4" y="420.22" width="8.10" height="52.78" fill="#a6d2f4"/>
<line x1="392.4" y1="412.94" x2="392.4" y2="427.13599999999997" stroke="#2a90d0" stroke-width="0.9" />
<line x1="390.2" y1="412.94" x2="394.59999999999997" y2="412.94" stroke="#2a90d0" stroke-width="0.9" />
<line x1="390.2" y1="427.13599999999997" x2="394.59999999999997" y2="427.13599999999997" stroke="#2a90d0" stroke-width="0.9" />
<circle cx="392.4" cy="414.76" r="1.1" fill="#2a90d0"/>
<circle cx="392.4" cy="420.21999999999997" r="1.1" fill="#2a90d0"/>
<circle cx="392.4" cy="426.408" r="1.1" fill="#2a90d0"/>
<line x1="362.8" y1="433" x2="376.2" y2="433" stroke="#222" stroke-width="1.0" />
<text x="369.50" y="431.80" font-size="7.0" text-anchor="middle" fill="#222" font-weight="bold" stroke="#222" stroke-width="0.2">*</text>
<line x1="367" y1="400.3" x2="391.9" y2="400.3" stroke="#222" stroke-width="1.0" />
<text x="379.45" y="399.10" font-size="7.0" text-anchor="middle" fill="#222" font-weight="bold" stroke="#222" stroke-width="0.2">***</text>
<line x1="378.5" y1="408.8" x2="391.9" y2="408.8" stroke="#222" stroke-width="1.0" />
<text x="385.20" y="407.60" font-size="7.0" text-anchor="middle" fill="#222" font-weight="bold" stroke="#222" stroke-width="0.2">**</text>
<g transform="translate(330.4,434.6) rotate(-90) scale(0.74,1)"><text x="0" y="3.08" font-size="8.6" text-anchor="middle" fill="#222" stroke="#222" stroke-width="0.22">Percentage of CAR NK (%)</text></g>
<line x1="456.4" y1="400.7" x2="456.4" y2="473.40000000000003" stroke="#222" stroke-width="1.2" />
<line x1="455.79999999999995" y1="472.8" x2="503" y2="472.8" stroke="#222" stroke-width="1.4" />
<line x1="453.79999999999995" y1="472.8" x2="456.4" y2="472.8" stroke="#222" stroke-width="1.0" />
<text x="451.09999999999997" y="475.17" font-size="7.7" text-anchor="end" fill="#1e1e1e" font-weight="normal" stroke="#1e1e1e" stroke-width="0.16">0</text>
<line x1="453.79999999999995" y1="450.06666666666666" x2="456.4" y2="450.06666666666666" stroke="#222" stroke-width="1.0" />
<text x="451.09999999999997" y="452.44" font-size="7.7" text-anchor="end" fill="#1e1e1e" font-weight="normal" stroke="#1e1e1e" stroke-width="0.16">20</text>
<line x1="453.79999999999995" y1="427.33333333333337" x2="456.4" y2="427.33333333333337" stroke="#222" stroke-width="1.0" />
<text x="451.09999999999997" y="429.71" font-size="7.7" text-anchor="end" fill="#1e1e1e" font-weight="normal" stroke="#1e1e1e" stroke-width="0.16">40</text>
<line x1="453.79999999999995" y1="404.6" x2="456.4" y2="404.6" stroke="#222" stroke-width="1.0" />
<text x="451.09999999999997" y="406.97" font-size="7.7" text-anchor="end" fill="#1e1e1e" font-weight="normal" stroke="#1e1e1e" stroke-width="0.16">60</text>
<rect x="461.8" y="427.33" width="8.50" height="45.47" fill="#e8847a"/>
<line x1="466" y1="412.5566666666667" x2="466" y2="442.11" stroke="#c0202a" stroke-width="0.9" />
<line x1="463.8" y1="412.5566666666667" x2="468.2" y2="412.5566666666667" stroke="#c0202a" stroke-width="0.9" />
<line x1="463.8" y1="442.11" x2="468.2" y2="442.11" stroke="#c0202a" stroke-width="0.9" />
<circle cx="466" cy="412.5566666666667" r="1.1" fill="#c0202a"/>
<circle cx="466" cy="425.06" r="1.1" fill="#c0202a"/>
<circle cx="466" cy="441.5416666666667" r="1.1" fill="#c0202a"/>
<rect x="476.6" y="467.69" width="7.40" height="5.12" fill="#f8c98a"/>
<line x1="480.3" y1="465.98" x2="480.3" y2="469.39" stroke="#e8901c" stroke-width="0.9" />
<line x1="478.5" y1="465.98" x2="482.1" y2="465.98" stroke="#e8901c" stroke-width="0.9" />
<line x1="478.5" y1="469.39" x2="482.1" y2="469.39" stroke="#e8901c" stroke-width="0.9" />
<circle cx="478.5" cy="468.25333333333333" r="1.1" fill="#e8901c"/>
<circle cx="482" cy="468.25333333333333" r="1.1" fill="#e8901c"/>
<circle cx="490" cy="472.40000000000003" r="0.9" fill="#2a90d0"/>
<circle cx="494.5" cy="472.40000000000003" r="0.9" fill="#2a90d0"/>
<circle cx="499" cy="472.40000000000003" r="0.9" fill="#2a90d0"/>
<line x1="465.4" y1="395.2" x2="490.8" y2="395.2" stroke="#222" stroke-width="1.0" />
<text x="478.10" y="394.00" font-size="7.0" text-anchor="middle" fill="#222" font-weight="bold" stroke="#222" stroke-width="0.2">**</text>
<line x1="465.4" y1="406.9" x2="479.4" y2="406.9" stroke="#222" stroke-width="1.0" />
<text x="472.40" y="405.70" font-size="7.0" text-anchor="middle" fill="#222" font-weight="bold" stroke="#222" stroke-width="0.2">**</text>
<line x1="480.4" y1="453.6" x2="494.2" y2="453.6" stroke="#222" stroke-width="1.0" />
<text x="487.29999999999995" y="451.99" font-size="7.2" text-anchor="middle" fill="#222" font-weight="normal" stroke="#222" stroke-width="0.16">ns</text>
<g transform="translate(421.8,437) rotate(-90) scale(0.747,1)"><text x="0" y="3.08" font-size="8.6" text-anchor="middle" fill="#222" stroke="#222" stroke-width="0.22">Percentage of tumor</text></g>
<g transform="translate(433.9,436.7) rotate(-90) scale(0.764,1)"><text x="0" y="3.08" font-size="8.6" text-anchor="middle" fill="#222" stroke="#222" stroke-width="0.22">cells (%)</text></g>
<text x="7.9" y="344.3" font-size="11.3" text-anchor="start" fill="#111" font-weight="bold" stroke="#111" stroke-width="0.3" style="">D</text>
<text x="153.5" y="345.10" font-size="8.9" text-anchor="middle" fill="#222" font-weight="normal" stroke="#222" stroke-width="0.16">Peripheral blood</text>
<rect x="55.8" y="349.4" width="71.70" height="70.20" fill="none" stroke="#a0a0a0" stroke-width="1.0"/>
<line x1="54.4" y1="356.49019999999996" x2="55.8" y2="356.49019999999996" stroke="#333" stroke-width="0.9" />
<text x="52.50" y="359.08" font-size="7.2" text-anchor="end" fill="#1e1e1e">10<tspan font-size="4.90" dy="-2.74">5</tspan></text>
<line x1="54.4" y1="373.4786" x2="55.8" y2="373.4786" stroke="#333" stroke-width="0.9" />
<text x="52.50" y="376.07" font-size="7.2" text-anchor="end" fill="#1e1e1e">10<tspan font-size="4.90" dy="-2.74">4</tspan></text>
<line x1="54.4" y1="392.2922" x2="55.8" y2="392.2922" stroke="#333" stroke-width="0.9" />
<text x="52.50" y="394.88" font-size="7.2" text-anchor="end" fill="#1e1e1e">10<tspan font-size="4.90" dy="-2.74">3</tspan></text>
<line x1="54.4" y1="404.156" x2="55.8" y2="404.156" stroke="#333" stroke-width="0.9" />
<text x="52.50" y="406.75" font-size="7.2" text-anchor="end" fill="#1e1e1e">0</text>
<line x1="54.4" y1="415.80920000000003" x2="55.8" y2="415.80920000000003" stroke="#333" stroke-width="0.9" />
<text x="52.50" y="418.40" font-size="7.2" text-anchor="end" fill="#1e1e1e">−10<tspan font-size="4.90" dy="-2.74">3</tspan></text>
<line x1="54.8" y1="363.44" x2="55.8" y2="363.44" stroke="#777" stroke-width="0.5" />
<line x1="54.8" y1="367.652" x2="55.8" y2="367.652" stroke="#777" stroke-width="0.5" />
<line x1="54.8" y1="380.99" x2="55.8" y2="380.99" stroke="#777" stroke-width="0.5" />
<line x1="54.8" y1="385.904" x2="55.8" y2="385.904" stroke="#777" stroke-width="0.5" />
<line x1="54.8" y1="409.772" x2="55.8" y2="409.772" stroke="#777" stroke-width="0.5" />
<rect x="54.30" y="402.66" width="1.7" height="3.0" rx="0.6" fill="#111"/>
<line x1="61.105799999999995" y1="419.6" x2="61.105799999999995" y2="421.20000000000005" stroke="#333" stroke-width="0.8" />
<text x="61.11" y="428.44" font-size="5.4" text-anchor="middle" fill="#333">−10<tspan font-size="3.67" dy="-2.05">3</tspan></text>
<line x1="71.8608" y1="419.6" x2="71.8608" y2="421.20000000000005" stroke="#333" stroke-width="0.8" />
<text x="71.86" y="428.44" font-size="5.4" text-anchor="middle" fill="#333">0</text>
<line x1="84.48" y1="419.6" x2="84.48" y2="421.20000000000005" stroke="#333" stroke-width="0.8" />
<text x="84.48" y="428.44" font-size="5.4" text-anchor="middle" fill="#333">10<tspan font-size="3.67" dy="-2.05">3</tspan></text>
<line x1="102.6918" y1="419.6" x2="102.6918" y2="421.20000000000005" stroke="#333" stroke-width="0.8" />
<text x="102.69" y="428.44" font-size="5.4" text-anchor="middle" fill="#333">10<tspan font-size="3.67" dy="-2.05">4</tspan></text>
<line x1="119.39789999999999" y1="419.6" x2="119.39789999999999" y2="421.20000000000005" stroke="#333" stroke-width="0.8" />
<text x="119.40" y="428.44" font-size="5.4" text-anchor="middle" fill="#333">10<tspan font-size="3.67" dy="-2.05">5</tspan></text>
<line x1="67.27199999999999" y1="419.6" x2="67.27199999999999" y2="420.6" stroke="#777" stroke-width="0.5" />
<line x1="78.744" y1="419.6" x2="78.744" y2="420.6" stroke="#777" stroke-width="0.5" />
<line x1="88.782" y1="419.6" x2="88.782" y2="420.6" stroke="#777" stroke-width="0.5" />
<line x1="93.801" y1="419.6" x2="93.801" y2="420.6" stroke="#777" stroke-width="0.5" />
<line x1="98.82" y1="419.6" x2="98.82" y2="420.6" stroke="#777" stroke-width="0.5" />
<line x1="109.575" y1="419.6" x2="109.575" y2="420.6" stroke="#777" stroke-width="0.5" />
<line x1="113.16" y1="419.6" x2="113.16" y2="420.6" stroke="#777" stroke-width="0.5" />
<rect x="70.26" y="419.40" width="3.2" height="1.7" rx="0.6" fill="#111"/>
<rect x="67.9" y="354.2" width="17.90" height="40.00" fill="none" stroke="#8c8c8c" stroke-width="0.8"/>
<rect x="94.8" y="395.6" width="23.70" height="14.40" fill="none" stroke="#8c8c8c" stroke-width="0.8"/>
<g filter="url(#blur1)">
<path d="M72.00,397.50 L77.00,395.50 L83.00,395.00 L86.80,394.40 L87.90,398.00 L87.40,404.00 L84.80,408.50 L78.50,410.90 L73.20,410.60 L71.20,406.50 L71.20,401.00 z" stroke="none" stroke-width="1" fill="#28168c" />
<ellipse cx="77.6" cy="403.2" rx="6.2" ry="6.8" fill="#1f50c8"/>
<ellipse cx="76.4" cy="403.5" rx="4.6" ry="5.5" fill="#22a6e6"/>
<ellipse cx="75.5" cy="403.7" rx="3.2" ry="4.1" fill="#34b46a"/>
<ellipse cx="75" cy="403.8" rx="1.9" ry="2.6" fill="#e2e032"/>
<ellipse cx="74.8" cy="403.8" rx="1.0" ry="1.5" fill="#e4461e"/>
<ellipse cx="106.8" cy="401.9" rx="9" ry="6.6" fill="#28168c" transform="rotate(-12 106.8 401.9)"/>
<ellipse cx="101" cy="402.5" rx="2.5" ry="3" fill="#6a1a80"/>
<ellipse cx="108" cy="401.6" rx="6.4" ry="4.8" fill="#1f50c8" transform="rotate(-12 108 401.6)"/>
<ellipse cx="108.8" cy="401.4" rx="4.6" ry="3.4" fill="#4a8ae0"/>
</g>
<rect x="104.6" y="398.8" width="5.6" height="5.8" fill="#e6e8f6" filter="url(#blur1)"/>
<text x="76.6" y="375.66" font-size="6.0" text-anchor="middle" fill="#cc2a58" font-weight="normal" stroke="#cc2a58" stroke-width="0.16">0.14%</text>
<g transform="translate(11.5,386.3) rotate(-90) scale(1.0,1)"><text x="0" y="3.28" font-size="9.1" text-anchor="middle" fill="#333" font-weight="normal" stroke="#333" stroke-width="0.16">Vehicle</text></g>
<line x1="32.8" y1="409.7" x2="32.8" y2="434.6" stroke="#1e1e1e" stroke-width="0.9" />
<path d="M30.9,410.9 L32.8,406.7 L34.699999999999996,410.9 z" stroke="none" stroke-width="1" fill="#1e1e1e" />
<line x1="32.349999999999994" y1="434.6" x2="55.3" y2="434.6" stroke="#1e1e1e" stroke-width="0.9" />
<path d="M54.099999999999994,432.70000000000005 L58.3,434.6 L54.099999999999994,436.5 z" stroke="none" stroke-width="1" fill="#1e1e1e" />
<g transform="translate(24.6,420.5) rotate(-90) scale(0.68,1)"><text x="0" y="3.01" font-size="8.4" text-anchor="middle" fill="#222" font-weight="bold" stroke="#222" stroke-width="0.3">EGFR</text></g>
<g transform="translate(46.1,442.5) scale(0.68,1)"><text x="0" y="3.01" font-size="8.4" text-anchor="middle" fill="#222" font-weight="bold" stroke="#222" stroke-width="0.3">GFP</text></g>
<rect x="188.7" y="350.6" width="69.80" height="70.20" fill="none" stroke="#a0a0a0" stroke-width="1.0"/>
<line x1="187.29999999999998" y1="357.6902" x2="188.7" y2="357.6902" stroke="#333" stroke-width="0.9" />
<text x="185.40" y="360.28" font-size="7.2" text-anchor="end" fill="#1e1e1e">10<tspan font-size="4.90" dy="-2.74">5</tspan></text>
<line x1="187.29999999999998" y1="374.6786" x2="188.7" y2="374.6786" stroke="#333" stroke-width="0.9" />
<text x="185.40" y="377.27" font-size="7.2" text-anchor="end" fill="#1e1e1e">10<tspan font-size="4.90" dy="-2.74">4</tspan></text>
<line x1="187.29999999999998" y1="393.4922" x2="188.7" y2="393.4922" stroke="#333" stroke-width="0.9" />
<text x="185.40" y="396.08" font-size="7.2" text-anchor="end" fill="#1e1e1e">10<tspan font-size="4.90" dy="-2.74">3</tspan></text>
<line x1="187.29999999999998" y1="405.356" x2="188.7" y2="405.356" stroke="#333" stroke-width="0.9" />
<text x="185.40" y="407.95" font-size="7.2" text-anchor="end" fill="#1e1e1e">0</text>
<line x1="187.29999999999998" y1="417.0092" x2="188.7" y2="417.0092" stroke="#333" stroke-width="0.9" />
<text x="185.40" y="419.60" font-size="7.2" text-anchor="end" fill="#1e1e1e">−10<tspan font-size="4.90" dy="-2.74">3</tspan></text>
<line x1="187.7" y1="364.64000000000004" x2="188.7" y2="364.64000000000004" stroke="#777" stroke-width="0.5" />
<line x1="187.7" y1="368.85200000000003" x2="188.7" y2="368.85200000000003" stroke="#777" stroke-width="0.5" />
<line x1="187.7" y1="382.19" x2="188.7" y2="382.19" stroke="#777" stroke-width="0.5" />
<line x1="187.7" y1="387.10400000000004" x2="188.7" y2="387.10400000000004" stroke="#777" stroke-width="0.5" />
<line x1="187.7" y1="410.97200000000004" x2="188.7" y2="410.97200000000004" stroke="#777" stroke-width="0.5" />
<rect x="187.20" y="403.86" width="1.7" height="3.0" rx="0.6" fill="#111"/>
<line x1="193.8652" y1="420.8" x2="193.8652" y2="422.40000000000003" stroke="#333" stroke-width="0.8" />
<text x="193.87" y="429.64" font-size="5.4" text-anchor="middle" fill="#333">−10<tspan font-size="3.67" dy="-2.05">3</tspan></text>
<line x1="204.3352" y1="420.8" x2="204.3352" y2="422.40000000000003" stroke="#333" stroke-width="0.8" />
<text x="204.34" y="429.64" font-size="5.4" text-anchor="middle" fill="#333">0</text>
<line x1="216.62" y1="420.8" x2="216.62" y2="422.40000000000003" stroke="#333" stroke-width="0.8" />
<text x="216.62" y="429.64" font-size="5.4" text-anchor="middle" fill="#333">10<tspan font-size="3.67" dy="-2.05">3</tspan></text>
<line x1="234.3492" y1="420.8" x2="234.3492" y2="422.40000000000003" stroke="#333" stroke-width="0.8" />
<text x="234.35" y="429.64" font-size="5.4" text-anchor="middle" fill="#333">10<tspan font-size="3.67" dy="-2.05">4</tspan></text>
<line x1="250.6126" y1="420.8" x2="250.6126" y2="422.40000000000003" stroke="#333" stroke-width="0.8" />
<text x="250.61" y="429.64" font-size="5.4" text-anchor="middle" fill="#333">10<tspan font-size="3.67" dy="-2.05">5</tspan></text>
<line x1="199.868" y1="420.8" x2="199.868" y2="421.8" stroke="#777" stroke-width="0.5" />
<line x1="211.036" y1="420.8" x2="211.036" y2="421.8" stroke="#777" stroke-width="0.5" />
<line x1="220.808" y1="420.8" x2="220.808" y2="421.8" stroke="#777" stroke-width="0.5" />
<line x1="225.694" y1="420.8" x2="225.694" y2="421.8" stroke="#777" stroke-width="0.5" />
<line x1="230.57999999999998" y1="420.8" x2="230.57999999999998" y2="421.8" stroke="#777" stroke-width="0.5" />
<line x1="241.05" y1="420.8" x2="241.05" y2="421.8" stroke="#777" stroke-width="0.5" />
<line x1="244.54" y1="420.8" x2="244.54" y2="421.8" stroke="#777" stroke-width="0.5" />
<rect x="202.74" y="420.60" width="3.2" height="1.7" rx="0.6" fill="#111"/>
<rect x="199.2" y="355" width="18.30" height="39.80" fill="none" stroke="#8c8c8c" stroke-width="0.8"/>
<rect x="226.2" y="395.8" width="23.40" height="14.40" fill="none" stroke="#8c8c8c" stroke-width="0.8"/>
<g filter="url(#blur1)">
<ellipse cx="212.6" cy="361.8" rx="3.3" ry="5.6" fill="#28168c" transform="rotate(18 212.6 361.8)"/>
<ellipse cx="212.8" cy="361.5" rx="1.6" ry="3" fill="#2a40b0" transform="rotate(18 212.8 361.5)"/>
<path d="M207.10,386.90 L209.00,391.50 L214.00,392.20 L220.40,390.20 L219.50,396.00 L216.00,404.00 L210.00,410.50 L205.40,412.90 L203.10,408.00 L203.10,398.00 L205.00,391.00 z" stroke="none" stroke-width="1" fill="#28168c" />
<path d="M203.80,396.00 L207.00,394.50 L210.00,398.00 L209.00,407.00 L205.50,410.50 L203.60,406.00 z" stroke="none" stroke-width="1" fill="#1f50c8" />
<ellipse cx="206" cy="403.5" rx="2.3" ry="4.2" fill="#22a6e6"/>
<ellipse cx="205.8" cy="403.7" rx="1.5" ry="2.7" fill="#34b46a"/>
<ellipse cx="205.7" cy="403.7" rx="0.8" ry="1.5" fill="#e2e032"/>
<path d="M230.20,402.00 L232.00,398.80 L236.00,398.50 L240.50,399.50 L238.00,401.00 L236.50,404.80 L232.00,404.80 z" stroke="none" stroke-width="1" fill="#3a1470" />
</g>
<text x="208.8" y="376.43" font-size="6.2" text-anchor="middle" fill="#cc2a58" font-weight="normal" stroke="#cc2a58" stroke-width="0.16">1.72%</text>
<text x="237.7" y="404.56" font-size="7.4" text-anchor="middle" fill="#cc2a58" font-weight="normal" stroke="#cc2a58" stroke-width="0.16">0.18%</text>
<g transform="translate(143.2,387.4) rotate(-90) scale(1.0,1)"><text x="0" y="3.24" font-size="9.0" text-anchor="middle" fill="#333" font-weight="normal" stroke="#333" stroke-width="0.16">sIL15</text></g>
<line x1="163.3" y1="410.2" x2="163.3" y2="434.4" stroke="#1e1e1e" stroke-width="0.9" />
<path d="M161.4,411.4 L163.3,407.2 L165.20000000000002,411.4 z" stroke="none" stroke-width="1" fill="#1e1e1e" />
<line x1="162.85000000000002" y1="434.4" x2="185.3" y2="434.4" stroke="#1e1e1e" stroke-width="0.9" />
<path d="M184.10000000000002,432.5 L188.3,434.4 L184.10000000000002,436.29999999999995 z" stroke="none" stroke-width="1" fill="#1e1e1e" />
<g transform="translate(154.9,420.5) rotate(-90) scale(0.68,1)"><text x="0" y="3.01" font-size="8.4" text-anchor="middle" fill="#222" font-weight="bold" stroke="#222" stroke-width="0.3">EGFR</text></g>
<g transform="translate(176.2,442.3) scale(0.68,1)"><text x="0" y="3.01" font-size="8.4" text-anchor="middle" fill="#222" font-weight="bold" stroke="#222" stroke-width="0.3">GFP</text></g>
<rect x="56.3" y="457.4" width="66.70" height="70.30" fill="none" stroke="#a0a0a0" stroke-width="1.0"/>
<line x1="54.9" y1="464.5003" x2="56.3" y2="464.5003" stroke="#333" stroke-width="0.9" />
<text x="53.00" y="467.09" font-size="7.2" text-anchor="end" fill="#1e1e1e">10<tspan font-size="4.90" dy="-2.74">5</tspan></text>
<line x1="54.9" y1="481.5129" x2="56.3" y2="481.5129" stroke="#333" stroke-width="0.9" />
<text x="53.00" y="484.10" font-size="7.2" text-anchor="end" fill="#1e1e1e">10<tspan font-size="4.90" dy="-2.74">4</tspan></text>
<line x1="54.9" y1="500.3533" x2="56.3" y2="500.3533" stroke="#333" stroke-width="0.9" />
<text x="53.00" y="502.95" font-size="7.2" text-anchor="end" fill="#1e1e1e">10<tspan font-size="4.90" dy="-2.74">3</tspan></text>
<line x1="54.9" y1="512.234" x2="56.3" y2="512.234" stroke="#333" stroke-width="0.9" />
<text x="53.00" y="514.83" font-size="7.2" text-anchor="end" fill="#1e1e1e">0</text>
<line x1="54.9" y1="523.9038" x2="56.3" y2="523.9038" stroke="#333" stroke-width="0.9" />
<text x="53.00" y="526.50" font-size="7.2" text-anchor="end" fill="#1e1e1e">−10<tspan font-size="4.90" dy="-2.74">3</tspan></text>
<line x1="55.3" y1="471.46" x2="56.3" y2="471.46" stroke="#777" stroke-width="0.5" />
<line x1="55.3" y1="475.678" x2="56.3" y2="475.678" stroke="#777" stroke-width="0.5" />
<line x1="55.3" y1="489.035" x2="56.3" y2="489.035" stroke="#777" stroke-width="0.5" />
<line x1="55.3" y1="493.956" x2="56.3" y2="493.956" stroke="#777" stroke-width="0.5" />
<line x1="55.3" y1="517.8580000000001" x2="56.3" y2="517.8580000000001" stroke="#777" stroke-width="0.5" />
<rect x="54.80" y="510.73" width="1.7" height="3.0" rx="0.6" fill="#111"/>
<line x1="61.2358" y1="527.7" x2="61.2358" y2="529.3000000000001" stroke="#333" stroke-width="0.8" />
<text x="61.24" y="536.54" font-size="5.4" text-anchor="middle" fill="#333">−10<tspan font-size="3.67" dy="-2.05">3</tspan></text>
<line x1="71.2408" y1="527.7" x2="71.2408" y2="529.3000000000001" stroke="#333" stroke-width="0.8" />
<text x="71.24" y="536.54" font-size="5.4" text-anchor="middle" fill="#333">0</text>
<line x1="82.98" y1="527.7" x2="82.98" y2="529.3000000000001" stroke="#333" stroke-width="0.8" />
<text x="82.98" y="536.54" font-size="5.4" text-anchor="middle" fill="#333">10<tspan font-size="3.67" dy="-2.05">3</tspan></text>
<line x1="99.92179999999999" y1="527.7" x2="99.92179999999999" y2="529.3000000000001" stroke="#333" stroke-width="0.8" />
<text x="99.92" y="536.54" font-size="5.4" text-anchor="middle" fill="#333">10<tspan font-size="3.67" dy="-2.05">4</tspan></text>
<line x1="115.46289999999999" y1="527.7" x2="115.46289999999999" y2="529.3000000000001" stroke="#333" stroke-width="0.8" />
<text x="115.46" y="536.54" font-size="5.4" text-anchor="middle" fill="#333">10<tspan font-size="3.67" dy="-2.05">5</tspan></text>
<line x1="66.972" y1="527.7" x2="66.972" y2="528.7" stroke="#777" stroke-width="0.5" />
<line x1="77.644" y1="527.7" x2="77.644" y2="528.7" stroke="#777" stroke-width="0.5" />
<line x1="86.982" y1="527.7" x2="86.982" y2="528.7" stroke="#777" stroke-width="0.5" />
<line x1="91.65100000000001" y1="527.7" x2="91.65100000000001" y2="528.7" stroke="#777" stroke-width="0.5" />
<line x1="96.32" y1="527.7" x2="96.32" y2="528.7" stroke="#777" stroke-width="0.5" />
<line x1="106.325" y1="527.7" x2="106.325" y2="528.7" stroke="#777" stroke-width="0.5" />
<line x1="109.66" y1="527.7" x2="109.66" y2="528.7" stroke="#777" stroke-width="0.5" />
<rect x="69.64" y="527.50" width="3.2" height="1.7" rx="0.6" fill="#111"/>
<rect x="68" y="462" width="16.90" height="40.10" fill="none" stroke="#8c8c8c" stroke-width="0.8"/>
<rect x="94.3" y="503.2" width="23.30" height="14.00" fill="none" stroke="#8c8c8c" stroke-width="0.8"/>
<g filter="url(#blur1)">
<path d="M76.80,462.00 L78.20,459.80 L83.20,459.60 L85.50,461.80 L85.60,470.00 L84.20,478.00 L81.70,485.60 L79.20,484.60 L77.20,478.00 L76.40,470.00 z" stroke="none" stroke-width="1" fill="#28168c" />
<ellipse cx="81.2" cy="469" rx="2.6" ry="7" fill="#2c2c9c" opacity="0.8"/>
<path d="M73.50,492.00 L75.00,489.60 L77.20,490.40 L78.60,497.40 L88.00,494.00 L91.30,495.30 L89.00,501.00 L83.00,510.00 L77.00,517.50 L73.00,518.80 L70.80,514.00 L71.00,503.00 z" stroke="none" stroke-width="1" fill="#28168c" />
<path d="M72.20,500.00 L76.00,499.00 L79.50,504.00 L77.50,513.50 L73.50,516.50 L71.80,508.00 z" stroke="none" stroke-width="1" fill="#1f50c8" />
<ellipse cx="74.4" cy="510" rx="2.8" ry="4.4" fill="#22a6e6"/>
<ellipse cx="74" cy="510.8" rx="1.8" ry="2.6" fill="#34b46a"/>
<ellipse cx="73.8" cy="511" rx="0.9" ry="1.2" fill="#e2e032"/>
</g>
<text x="76.6" y="484.83" font-size="6.2" text-anchor="middle" fill="#cc2a58" font-weight="normal" stroke="#cc2a58" stroke-width="0.16">4.55%</text>
<text x="105.6" y="512.91" font-size="6.7" text-anchor="middle" fill="#cc2a58" font-weight="normal" stroke="#cc2a58" stroke-width="0.16">0%</text>
<g transform="translate(11.25,493.7) rotate(-90) scale(1.0,1)"><text x="0" y="3.31" font-size="9.2" text-anchor="middle" fill="#333" font-weight="normal" stroke="#333" stroke-width="0.16">FLT3 CAR_sIL15</text></g>
<line x1="32.8" y1="517.6" x2="32.8" y2="542" stroke="#1e1e1e" stroke-width="0.9" />
<path d="M30.9,518.8000000000001 L32.8,514.6 L34.699999999999996,518.8000000000001 z" stroke="none" stroke-width="1" fill="#1e1e1e" />
<line x1="32.349999999999994" y1="542" x2="55.3" y2="542" stroke="#1e1e1e" stroke-width="0.9" />
<path d="M54.099999999999994,540.1 L58.3,542 L54.099999999999994,543.9 z" stroke="none" stroke-width="1" fill="#1e1e1e" />
<g transform="translate(24.6,527.9) rotate(-90) scale(0.68,1)"><text x="0" y="3.01" font-size="8.4" text-anchor="middle" fill="#222" font-weight="bold" stroke="#222" stroke-width="0.3">EGFR</text></g>
<g transform="translate(46.1,550) scale(0.68,1)"><text x="0" y="3.01" font-size="8.4" text-anchor="middle" fill="#222" font-weight="bold" stroke="#222" stroke-width="0.3">GFP</text></g>
<line x1="163" y1="531.2" x2="174.6" y2="531.2" stroke="#c8283c" stroke-width="1.3" />
<circle cx="168.8" cy="531.2" r="2.1" fill="#c8283c"/>
<text x="178" y="533.72" font-size="7.0" text-anchor="start" fill="#333" font-weight="normal" stroke="#333" stroke-width="0.16">Vehicle</text>
<line x1="163" y1="542.3" x2="174.6" y2="542.3" stroke="#f0a020" stroke-width="1.3" />
<circle cx="168.8" cy="542.3" r="2.1" fill="#f0a020"/>
<text x="178" y="544.82" font-size="7.0" text-anchor="start" fill="#333" font-weight="normal" stroke="#333" stroke-width="0.16">sIL15</text>
<line x1="163" y1="553.2" x2="174.6" y2="553.2" stroke="#3aacdf" stroke-width="1.3" />
<circle cx="168.8" cy="553.2" r="2.1" fill="#3aacdf"/>
<text x="178" y="555.72" font-size="7.0" text-anchor="start" fill="#333" font-weight="normal" stroke="#333" stroke-width="0.16">FLT3 CAR_sIL15</text>
<line x1="68.6" y1="580.4" x2="68.6" y2="654.1" stroke="#222" stroke-width="1.2" />
<line x1="68.0" y1="653.5" x2="116.9" y2="653.5" stroke="#222" stroke-width="1.4" />
<line x1="66.0" y1="653.5" x2="68.6" y2="653.5" stroke="#222" stroke-width="1.0" />
<text x="63.3" y="655.87" font-size="7.7" text-anchor="end" fill="#1e1e1e" font-weight="normal" stroke="#1e1e1e" stroke-width="0.16">0</text>
<line x1="66.0" y1="635.925" x2="68.6" y2="635.925" stroke="#222" stroke-width="1.0" />
<text x="63.3" y="638.30" font-size="7.7" text-anchor="end" fill="#1e1e1e" font-weight="normal" stroke="#1e1e1e" stroke-width="0.16">10</text>
<line x1="66.0" y1="618.35" x2="68.6" y2="618.35" stroke="#222" stroke-width="1.0" />
<text x="63.3" y="620.72" font-size="7.7" text-anchor="end" fill="#1e1e1e" font-weight="normal" stroke="#1e1e1e" stroke-width="0.16">20</text>
<line x1="66.0" y1="600.7750000000001" x2="68.6" y2="600.7750000000001" stroke="#222" stroke-width="1.0" />
<text x="63.3" y="603.15" font-size="7.7" text-anchor="end" fill="#1e1e1e" font-weight="normal" stroke="#1e1e1e" stroke-width="0.16">30</text>
<line x1="66.0" y1="583.2" x2="68.6" y2="583.2" stroke="#222" stroke-width="1.0" />
<text x="63.3" y="585.57" font-size="7.7" text-anchor="end" fill="#1e1e1e" font-weight="normal" stroke="#1e1e1e" stroke-width="0.16">40</text>
<circle cx="73.5" cy="653.2" r="1.0" fill="#c0202a"/>
<circle cx="78" cy="653.2" r="1.0" fill="#c0202a"/>
<circle cx="82.5" cy="653.2" r="1.0" fill="#c0202a"/>
<rect x="89.2" y="637.68" width="8.80" height="15.82" fill="#f8c98a"/>
<line x1="93.6" y1="623.6225000000001" x2="93.6" y2="650.86375" stroke="#e8901c" stroke-width="0.9" />
<line x1="91.39999999999999" y1="623.6225000000001" x2="95.8" y2="623.6225000000001" stroke="#e8901c" stroke-width="0.9" />
<line x1="91.39999999999999" y1="650.86375" x2="95.8" y2="650.86375" stroke="#e8901c" stroke-width="0.9" />
<circle cx="93.6" cy="610.4412500000001" r="1.1" fill="#e8901c"/>
<circle cx="93.6" cy="648.579" r="1.1" fill="#e8901c"/>
<rect x="103.5" y="628.02" width="8.80" height="25.48" fill="#a6d2f4"/>
<line x1="107.9" y1="611.32" x2="107.9" y2="643.83375" stroke="#2a90d0" stroke-width="0.9" />
<line x1="105.7" y1="611.32" x2="110.10000000000001" y2="611.32" stroke="#2a90d0" stroke-width="0.9" />
<line x1="105.7" y1="643.83375" x2="110.10000000000001" y2="643.83375" stroke="#2a90d0" stroke-width="0.9" />
<circle cx="107.9" cy="594.6237500000001" r="1.1" fill="#2a90d0"/>
<circle cx="107.9" cy="643.83375" r="1.1" fill="#2a90d0"/>
<circle cx="107.9" cy="639.44" r="1.1" fill="#2a90d0"/>
<line x1="81.2" y1="578" x2="107.2" y2="578" stroke="#222" stroke-width="1.0" />
<text x="94.2" y="576.39" font-size="7.2" text-anchor="middle" fill="#222" font-weight="normal" stroke="#222" stroke-width="0.16">ns</text>
<line x1="95" y1="590.7" x2="108.9" y2="590.7" stroke="#222" stroke-width="1.0" />
<text x="101.95" y="589.09" font-size="7.2" text-anchor="middle" fill="#222" font-weight="normal" stroke="#222" stroke-width="0.16">ns</text>
<line x1="79.5" y1="602.7" x2="93.4" y2="602.7" stroke="#222" stroke-width="1.0" />
<text x="86.45" y="601.09" font-size="7.2" text-anchor="middle" fill="#222" font-weight="normal" stroke="#222" stroke-width="0.16">ns</text>
<g transform="translate(47.0,618) rotate(-90) scale(0.74,1)"><text x="0" y="3.08" font-size="8.6" text-anchor="middle" fill="#222" stroke="#222" stroke-width="0.22">Percentage of CAR NK (%)</text></g>
<line x1="171.2" y1="580.2" x2="171.2" y2="654.0" stroke="#222" stroke-width="1.2" />
<line x1="170.6" y1="653.4" x2="219.6" y2="653.4" stroke="#222" stroke-width="1.4" />
<line x1="168.6" y1="653.4" x2="171.2" y2="653.4" stroke="#222" stroke-width="1.0" />
<text x="165.89999999999998" y="655.77" font-size="7.7" text-anchor="end" fill="#1e1e1e" font-weight="normal" stroke="#1e1e1e" stroke-width="0.16">0</text>
<line x1="168.6" y1="639.36" x2="171.2" y2="639.36" stroke="#222" stroke-width="1.0" />
<text x="165.89999999999998" y="641.73" font-size="7.7" text-anchor="end" fill="#1e1e1e" font-weight="normal" stroke="#1e1e1e" stroke-width="0.16">5</text>
<line x1="168.6" y1="625.32" x2="171.2" y2="625.32" stroke="#222" stroke-width="1.0" />
<text x="165.89999999999998" y="627.69" font-size="7.7" text-anchor="end" fill="#1e1e1e" font-weight="normal" stroke="#1e1e1e" stroke-width="0.16">10</text>
<line x1="168.6" y1="611.28" x2="171.2" y2="611.28" stroke="#222" stroke-width="1.0" />
<text x="165.89999999999998" y="613.65" font-size="7.7" text-anchor="end" fill="#1e1e1e" font-weight="normal" stroke="#1e1e1e" stroke-width="0.16">15</text>
<line x1="168.6" y1="597.24" x2="171.2" y2="597.24" stroke="#222" stroke-width="1.0" />
<text x="165.89999999999998" y="599.61" font-size="7.7" text-anchor="end" fill="#1e1e1e" font-weight="normal" stroke="#1e1e1e" stroke-width="0.16">20</text>
<line x1="168.6" y1="583.2" x2="171.2" y2="583.2" stroke="#222" stroke-width="1.0" />
<text x="165.89999999999998" y="585.57" font-size="7.7" text-anchor="end" fill="#1e1e1e" font-weight="normal" stroke="#1e1e1e" stroke-width="0.16">25</text>
<rect x="177.4" y="610.44" width="8.30" height="42.96" fill="#e8847a"/>
<line x1="181.5" y1="601.7328" x2="181.5" y2="617.7384" stroke="#c0202a" stroke-width="0.9" />
<line x1="179.3" y1="601.7328" x2="183.7" y2="601.7328" stroke="#c0202a" stroke-width="0.9" />
<line x1="179.3" y1="617.7384" x2="183.7" y2="617.7384" stroke="#c0202a" stroke-width="0.9" />
<circle cx="181.5" cy="598.9248" r="1.1" fill="#c0202a"/>
<circle cx="181.5" cy="604.26" r="1.1" fill="#c0202a"/>
<circle cx="181.5" cy="624.4776" r="1.1" fill="#c0202a"/>
<rect x="192" y="650.03" width="5.70" height="3.37" fill="#f8c98a"/>
<line x1="192" y1="650.0304" x2="197.7" y2="650.0304" stroke="#e8901c" stroke-width="1.0" />
<circle cx="194.8" cy="650.8728" r="1.1" fill="#e8901c"/>
<line x1="209.2" y1="645.5376" x2="209.2" y2="651.996" stroke="#2a90d0" stroke-width="0.9" />
<line x1="207.39999999999998" y1="645.5376" x2="211.0" y2="645.5376" stroke="#2a90d0" stroke-width="0.9" />
<line x1="207.39999999999998" y1="651.996" x2="211.0" y2="651.996" stroke="#2a90d0" stroke-width="0.9" />
<circle cx="209.2" cy="648.3456" r="1.1" fill="#2a90d0"/>
<line x1="181.5" y1="583.1" x2="207.4" y2="583.1" stroke="#222" stroke-width="1.0" />
<text x="194.45" y="581.90" font-size="7.0" text-anchor="middle" fill="#222" font-weight="bold" stroke="#222" stroke-width="0.2">**</text>
<line x1="181.5" y1="593.5" x2="195.8" y2="593.5" stroke="#222" stroke-width="1.0" />
<text x="188.65" y="592.30" font-size="7.0" text-anchor="middle" fill="#222" font-weight="bold" stroke="#222" stroke-width="0.2">**</text>
<line x1="196.5" y1="636.9" x2="210.4" y2="636.9" stroke="#222" stroke-width="1.0" />
<text x="203.45" y="635.29" font-size="7.2" text-anchor="middle" fill="#222" font-weight="normal" stroke="#222" stroke-width="0.16">ns</text>
<g transform="translate(137.3,617) rotate(-90) scale(0.756,1)"><text x="0" y="3.08" font-size="8.6" text-anchor="middle" fill="#222" stroke="#222" stroke-width="0.22">Percentage of tumor</text></g>
<g transform="translate(148.7,617) rotate(-90) scale(0.774,1)"><text x="0" y="3.08" font-size="8.6" text-anchor="middle" fill="#222" stroke="#222" stroke-width="0.22">cells (%)</text></g>
<text x="310.5" y="505.3" font-size="11.5" text-anchor="start" fill="#111" font-weight="bold" stroke="#111" stroke-width="0.35" style="">E</text>
<line x1="350.4" y1="499.5" x2="361.2" y2="499.5" stroke="#3aaa3a" stroke-width="1.3" />
<circle cx="355.8" cy="499.5" r="1.9" fill="#3aaa3a"/>
<text x="365" y="502.06" font-size="7.1" text-anchor="start" fill="#2a2a2a" font-weight="normal" stroke="#2a2a2a" stroke-width="0.16">NT (n = 9)</text>
<line x1="350.4" y1="509.6" x2="361.2" y2="509.6" stroke="#3aacdf" stroke-width="1.3" />
<circle cx="355.8" cy="509.6" r="1.9" fill="#3aacdf"/>
<text x="365" y="512.16" font-size="7.1" text-anchor="start" fill="#2a2a2a" font-weight="normal" stroke="#2a2a2a" stroke-width="0.16">FLT3 CAR_sIL15 (n = 9)</text>
<text x="411.5" y="532.44" font-size="9.0" text-anchor="middle" fill="#1e1e1e" font-weight="normal" stroke="#1e1e1e" stroke-width="0.16">NT vs. FLT3 CAR_sIL15</text>
<line x1="349.9" y1="536.9" x2="349.9" y2="621.3" stroke="#2a2a2a" stroke-width="1.1" />
<line x1="349.4" y1="620.8" x2="473.8" y2="620.8" stroke="#2a2a2a" stroke-width="1.2" />
<line x1="347.29999999999995" y1="620.8" x2="349.9" y2="620.8" stroke="#2a2a2a" stroke-width="0.9" />
<text x="344.29999999999995" y="623.46" font-size="7.4" text-anchor="end" fill="#1e1e1e" font-weight="normal" stroke="#1e1e1e" stroke-width="0.16">0</text>
<line x1="347.29999999999995" y1="583.8499999999999" x2="349.9" y2="583.8499999999999" stroke="#2a2a2a" stroke-width="0.9" />
<text x="344.29999999999995" y="586.51" font-size="7.4" text-anchor="end" fill="#1e1e1e" font-weight="normal" stroke="#1e1e1e" stroke-width="0.16">50</text>
<line x1="347.29999999999995" y1="546.9" x2="349.9" y2="546.9" stroke="#2a2a2a" stroke-width="0.9" />
<text x="344.29999999999995" y="549.56" font-size="7.4" text-anchor="end" fill="#1e1e1e" font-weight="normal" stroke="#1e1e1e" stroke-width="0.16">100</text>
<line x1="348.5" y1="620.8" x2="349.9" y2="620.8" stroke="#444" stroke-width="0.6" />
<line x1="348.5" y1="617.1049999999999" x2="349.9" y2="617.1049999999999" stroke="#444" stroke-width="0.6" />
<line x1="348.5" y1="613.41" x2="349.9" y2="613.41" stroke="#444" stroke-width="0.6" />
<line x1="348.5" y1="609.7149999999999" x2="349.9" y2="609.7149999999999" stroke="#444" stroke-width="0.6" />
<line x1="348.5" y1="606.02" x2="349.9" y2="606.02" stroke="#444" stroke-width="0.6" />
<line x1="348.5" y1="602.3249999999999" x2="349.9" y2="602.3249999999999" stroke="#444" stroke-width="0.6" />
<line x1="348.5" y1="598.63" x2="349.9" y2="598.63" stroke="#444" stroke-width="0.6" />
<line x1="348.5" y1="594.935" x2="349.9" y2="594.935" stroke="#444" stroke-width="0.6" />
<line x1="348.5" y1="591.24" x2="349.9" y2="591.24" stroke="#444" stroke-width="0.6" />
<line x1="348.5" y1="587.545" x2="349.9" y2="587.545" stroke="#444" stroke-width="0.6" />
<line x1="348.5" y1="583.8499999999999" x2="349.9" y2="583.8499999999999" stroke="#444" stroke-width="0.6" />
<line x1="348.5" y1="580.155" x2="349.9" y2="580.155" stroke="#444" stroke-width="0.6" />
<line x1="348.5" y1="576.4599999999999" x2="349.9" y2="576.4599999999999" stroke="#444" stroke-width="0.6" />
<line x1="348.5" y1="572.765" x2="349.9" y2="572.765" stroke="#444" stroke-width="0.6" />
<line x1="348.5" y1="569.0699999999999" x2="349.9" y2="569.0699999999999" stroke="#444" stroke-width="0.6" />
<line x1="348.5" y1="565.375" x2="349.9" y2="565.375" stroke="#444" stroke-width="0.6" />
<line x1="348.5" y1="561.68" x2="349.9" y2="561.68" stroke="#444" stroke-width="0.6" />
<line x1="348.5" y1="557.985" x2="349.9" y2="557.985" stroke="#444" stroke-width="0.6" />
<line x1="348.5" y1="554.29" x2="349.9" y2="554.29" stroke="#444" stroke-width="0.6" />
<line x1="348.5" y1="550.595" x2="349.9" y2="550.595" stroke="#444" stroke-width="0.6" />
<line x1="348.5" y1="546.9" x2="349.9" y2="546.9" stroke="#444" stroke-width="0.6" />
<line x1="348.5" y1="543.2049999999999" x2="349.9" y2="543.2049999999999" stroke="#444" stroke-width="0.6" />
<line x1="348.5" y1="539.51" x2="349.9" y2="539.51" stroke="#444" stroke-width="0.6" />
<line x1="349.9" y1="620.8" x2="349.9" y2="623.1999999999999" stroke="#2a2a2a" stroke-width="0.9" />
<text x="349.9" y="633.76" font-size="7.4" text-anchor="middle" fill="#1e1e1e" font-weight="normal" stroke="#1e1e1e" stroke-width="0.16">0</text>
<line x1="374.4" y1="620.8" x2="374.4" y2="623.1999999999999" stroke="#2a2a2a" stroke-width="0.9" />
<text x="374.4" y="633.76" font-size="7.4" text-anchor="middle" fill="#1e1e1e" font-weight="normal" stroke="#1e1e1e" stroke-width="0.16">10</text>
<line x1="398.9" y1="620.8" x2="398.9" y2="623.1999999999999" stroke="#2a2a2a" stroke-width="0.9" />
<text x="398.9" y="633.76" font-size="7.4" text-anchor="middle" fill="#1e1e1e" font-weight="normal" stroke="#1e1e1e" stroke-width="0.16">20</text>
<line x1="423.4" y1="620.8" x2="423.4" y2="623.1999999999999" stroke="#2a2a2a" stroke-width="0.9" />
<text x="423.4" y="633.76" font-size="7.4" text-anchor="middle" fill="#1e1e1e" font-weight="normal" stroke="#1e1e1e" stroke-width="0.16">30</text>
<line x1="447.9" y1="620.8" x2="447.9" y2="623.1999999999999" stroke="#2a2a2a" stroke-width="0.9" />
<text x="447.9" y="633.76" font-size="7.4" text-anchor="middle" fill="#1e1e1e" font-weight="normal" stroke="#1e1e1e" stroke-width="0.16">40</text>
<line x1="472.4" y1="620.8" x2="472.4" y2="623.1999999999999" stroke="#2a2a2a" stroke-width="0.9" />
<text x="472.4" y="633.76" font-size="7.4" text-anchor="middle" fill="#1e1e1e" font-weight="normal" stroke="#1e1e1e" stroke-width="0.16">50</text>
<g transform="translate(322.2,578.3) rotate(-90) scale(0.75,1)"><text x="0" y="2.94" font-size="8.2" text-anchor="middle" fill="#222" stroke="#222" stroke-width="0.22">Probability of survival</text></g>
<g transform="translate(413,643.3) scale(0.75,1)"><text x="0" y="2.94" font-size="8.2" text-anchor="middle" fill="#222" stroke="#222" stroke-width="0.22">Time</text></g>
<path d="M349.9,546.9 L416.4305,546.9 L416.4305,555.1029 L418.64,555.1029 L418.64,571.5087 L421.34049999999996,571.5087 L421.34049999999996,587.9884 L423.54999999999995,587.9884 L423.54999999999995,620.8" stroke="#3aaa3a" stroke-width="1.3" fill="none" />
<path d="M417.0305,546.9 L437.789,546.9 L437.789,563.3058 L440.735,563.3058 L440.735,579.7116 L453.01,579.7116 L453.01,596.1913 L455.465,596.1913 L455.465,620.8" stroke="#3aacdf" stroke-width="1.3" fill="none" />
<text x="398.9" y="562.14" font-size="7.6" text-anchor="middle" fill="#222" font-weight="normal" stroke="#222" stroke-width="0.16"><tspan font-style="italic">P</tspan> = .012</text>
<rect x="0.5" y="0.5" width="519" height="666" fill="none" stroke="#555" stroke-width="1.2"/>
</svg></body></html>
